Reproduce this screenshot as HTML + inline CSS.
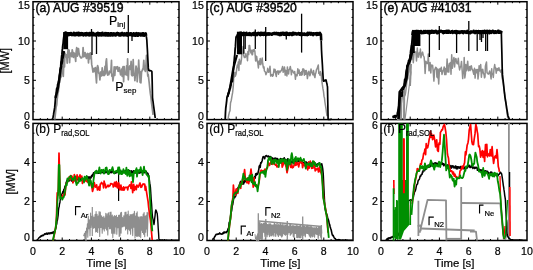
<!DOCTYPE html>
<html><head><meta charset="utf-8"><style>
html,body{margin:0;padding:0;background:#fff;}
svg{display:block;font-family:"Liberation Sans",sans-serif;will-change:transform;}
text{stroke:#000;stroke-width:0.2px;}
text.t{stroke-width:0.4px;}
</style></head><body>
<svg width="533" height="270" viewBox="0 0 533 270">
<rect width="533" height="270" fill="#fff"/>
<rect x="33" y="1.7" width="146" height="117.89999999999999" fill="none" stroke="#000" stroke-width="1.5"/>
<line x1="40.3" y1="119.6" x2="40.3" y2="118.1" stroke="#000" stroke-width="1"/>
<line x1="40.3" y1="1.7" x2="40.3" y2="3.2" stroke="#000" stroke-width="1"/>
<line x1="47.6" y1="119.6" x2="47.6" y2="118.1" stroke="#000" stroke-width="1"/>
<line x1="47.6" y1="1.7" x2="47.6" y2="3.2" stroke="#000" stroke-width="1"/>
<line x1="54.9" y1="119.6" x2="54.9" y2="118.1" stroke="#000" stroke-width="1"/>
<line x1="54.9" y1="1.7" x2="54.9" y2="3.2" stroke="#000" stroke-width="1"/>
<line x1="62.2" y1="119.6" x2="62.2" y2="116.6" stroke="#000" stroke-width="1"/>
<line x1="62.2" y1="1.7" x2="62.2" y2="4.7" stroke="#000" stroke-width="1"/>
<line x1="69.5" y1="119.6" x2="69.5" y2="118.1" stroke="#000" stroke-width="1"/>
<line x1="69.5" y1="1.7" x2="69.5" y2="3.2" stroke="#000" stroke-width="1"/>
<line x1="76.8" y1="119.6" x2="76.8" y2="118.1" stroke="#000" stroke-width="1"/>
<line x1="76.8" y1="1.7" x2="76.8" y2="3.2" stroke="#000" stroke-width="1"/>
<line x1="84.1" y1="119.6" x2="84.1" y2="118.1" stroke="#000" stroke-width="1"/>
<line x1="84.1" y1="1.7" x2="84.1" y2="3.2" stroke="#000" stroke-width="1"/>
<line x1="91.4" y1="119.6" x2="91.4" y2="116.6" stroke="#000" stroke-width="1"/>
<line x1="91.4" y1="1.7" x2="91.4" y2="4.7" stroke="#000" stroke-width="1"/>
<line x1="98.7" y1="119.6" x2="98.7" y2="118.1" stroke="#000" stroke-width="1"/>
<line x1="98.7" y1="1.7" x2="98.7" y2="3.2" stroke="#000" stroke-width="1"/>
<line x1="106.0" y1="119.6" x2="106.0" y2="118.1" stroke="#000" stroke-width="1"/>
<line x1="106.0" y1="1.7" x2="106.0" y2="3.2" stroke="#000" stroke-width="1"/>
<line x1="113.3" y1="119.6" x2="113.3" y2="118.1" stroke="#000" stroke-width="1"/>
<line x1="113.3" y1="1.7" x2="113.3" y2="3.2" stroke="#000" stroke-width="1"/>
<line x1="120.6" y1="119.6" x2="120.6" y2="116.6" stroke="#000" stroke-width="1"/>
<line x1="120.6" y1="1.7" x2="120.6" y2="4.7" stroke="#000" stroke-width="1"/>
<line x1="127.89999999999999" y1="119.6" x2="127.89999999999999" y2="118.1" stroke="#000" stroke-width="1"/>
<line x1="127.89999999999999" y1="1.7" x2="127.89999999999999" y2="3.2" stroke="#000" stroke-width="1"/>
<line x1="135.2" y1="119.6" x2="135.2" y2="118.1" stroke="#000" stroke-width="1"/>
<line x1="135.2" y1="1.7" x2="135.2" y2="3.2" stroke="#000" stroke-width="1"/>
<line x1="142.5" y1="119.6" x2="142.5" y2="118.1" stroke="#000" stroke-width="1"/>
<line x1="142.5" y1="1.7" x2="142.5" y2="3.2" stroke="#000" stroke-width="1"/>
<line x1="149.8" y1="119.6" x2="149.8" y2="116.6" stroke="#000" stroke-width="1"/>
<line x1="149.8" y1="1.7" x2="149.8" y2="4.7" stroke="#000" stroke-width="1"/>
<line x1="157.1" y1="119.6" x2="157.1" y2="118.1" stroke="#000" stroke-width="1"/>
<line x1="157.1" y1="1.7" x2="157.1" y2="3.2" stroke="#000" stroke-width="1"/>
<line x1="164.4" y1="119.6" x2="164.4" y2="118.1" stroke="#000" stroke-width="1"/>
<line x1="164.4" y1="1.7" x2="164.4" y2="3.2" stroke="#000" stroke-width="1"/>
<line x1="171.7" y1="119.6" x2="171.7" y2="118.1" stroke="#000" stroke-width="1"/>
<line x1="171.7" y1="1.7" x2="171.7" y2="3.2" stroke="#000" stroke-width="1"/>
<line x1="33" y1="111.74" x2="34.5" y2="111.74" stroke="#000" stroke-width="1"/>
<line x1="179" y1="111.74" x2="177.5" y2="111.74" stroke="#000" stroke-width="1"/>
<line x1="33" y1="103.88" x2="34.5" y2="103.88" stroke="#000" stroke-width="1"/>
<line x1="179" y1="103.88" x2="177.5" y2="103.88" stroke="#000" stroke-width="1"/>
<line x1="33" y1="96.02" x2="34.5" y2="96.02" stroke="#000" stroke-width="1"/>
<line x1="179" y1="96.02" x2="177.5" y2="96.02" stroke="#000" stroke-width="1"/>
<line x1="33" y1="88.16" x2="34.5" y2="88.16" stroke="#000" stroke-width="1"/>
<line x1="179" y1="88.16" x2="177.5" y2="88.16" stroke="#000" stroke-width="1"/>
<line x1="33" y1="80.3" x2="36.0" y2="80.3" stroke="#000" stroke-width="1"/>
<line x1="179" y1="80.3" x2="176.0" y2="80.3" stroke="#000" stroke-width="1"/>
<line x1="33" y1="72.44" x2="34.5" y2="72.44" stroke="#000" stroke-width="1"/>
<line x1="179" y1="72.44" x2="177.5" y2="72.44" stroke="#000" stroke-width="1"/>
<line x1="33" y1="64.58" x2="34.5" y2="64.58" stroke="#000" stroke-width="1"/>
<line x1="179" y1="64.58" x2="177.5" y2="64.58" stroke="#000" stroke-width="1"/>
<line x1="33" y1="56.72" x2="34.5" y2="56.72" stroke="#000" stroke-width="1"/>
<line x1="179" y1="56.72" x2="177.5" y2="56.72" stroke="#000" stroke-width="1"/>
<line x1="33" y1="48.86" x2="34.5" y2="48.86" stroke="#000" stroke-width="1"/>
<line x1="179" y1="48.86" x2="177.5" y2="48.86" stroke="#000" stroke-width="1"/>
<line x1="33" y1="41.0" x2="36.0" y2="41.0" stroke="#000" stroke-width="1"/>
<line x1="179" y1="41.0" x2="176.0" y2="41.0" stroke="#000" stroke-width="1"/>
<line x1="33" y1="33.14" x2="34.5" y2="33.14" stroke="#000" stroke-width="1"/>
<line x1="179" y1="33.14" x2="177.5" y2="33.14" stroke="#000" stroke-width="1"/>
<line x1="33" y1="25.28" x2="34.5" y2="25.28" stroke="#000" stroke-width="1"/>
<line x1="179" y1="25.28" x2="177.5" y2="25.28" stroke="#000" stroke-width="1"/>
<line x1="33" y1="17.42" x2="34.5" y2="17.42" stroke="#000" stroke-width="1"/>
<line x1="179" y1="17.42" x2="177.5" y2="17.42" stroke="#000" stroke-width="1"/>
<line x1="33" y1="9.560000000000002" x2="34.5" y2="9.560000000000002" stroke="#000" stroke-width="1"/>
<line x1="179" y1="9.560000000000002" x2="177.5" y2="9.560000000000002" stroke="#000" stroke-width="1"/>
<rect x="33" y="123.4" width="146" height="117.1" fill="none" stroke="#000" stroke-width="1.5"/>
<line x1="40.3" y1="240.5" x2="40.3" y2="239.0" stroke="#000" stroke-width="1"/>
<line x1="40.3" y1="123.4" x2="40.3" y2="124.9" stroke="#000" stroke-width="1"/>
<line x1="47.6" y1="240.5" x2="47.6" y2="239.0" stroke="#000" stroke-width="1"/>
<line x1="47.6" y1="123.4" x2="47.6" y2="124.9" stroke="#000" stroke-width="1"/>
<line x1="54.9" y1="240.5" x2="54.9" y2="239.0" stroke="#000" stroke-width="1"/>
<line x1="54.9" y1="123.4" x2="54.9" y2="124.9" stroke="#000" stroke-width="1"/>
<line x1="62.2" y1="240.5" x2="62.2" y2="237.5" stroke="#000" stroke-width="1"/>
<line x1="62.2" y1="123.4" x2="62.2" y2="126.4" stroke="#000" stroke-width="1"/>
<line x1="69.5" y1="240.5" x2="69.5" y2="239.0" stroke="#000" stroke-width="1"/>
<line x1="69.5" y1="123.4" x2="69.5" y2="124.9" stroke="#000" stroke-width="1"/>
<line x1="76.8" y1="240.5" x2="76.8" y2="239.0" stroke="#000" stroke-width="1"/>
<line x1="76.8" y1="123.4" x2="76.8" y2="124.9" stroke="#000" stroke-width="1"/>
<line x1="84.1" y1="240.5" x2="84.1" y2="239.0" stroke="#000" stroke-width="1"/>
<line x1="84.1" y1="123.4" x2="84.1" y2="124.9" stroke="#000" stroke-width="1"/>
<line x1="91.4" y1="240.5" x2="91.4" y2="237.5" stroke="#000" stroke-width="1"/>
<line x1="91.4" y1="123.4" x2="91.4" y2="126.4" stroke="#000" stroke-width="1"/>
<line x1="98.7" y1="240.5" x2="98.7" y2="239.0" stroke="#000" stroke-width="1"/>
<line x1="98.7" y1="123.4" x2="98.7" y2="124.9" stroke="#000" stroke-width="1"/>
<line x1="106.0" y1="240.5" x2="106.0" y2="239.0" stroke="#000" stroke-width="1"/>
<line x1="106.0" y1="123.4" x2="106.0" y2="124.9" stroke="#000" stroke-width="1"/>
<line x1="113.3" y1="240.5" x2="113.3" y2="239.0" stroke="#000" stroke-width="1"/>
<line x1="113.3" y1="123.4" x2="113.3" y2="124.9" stroke="#000" stroke-width="1"/>
<line x1="120.6" y1="240.5" x2="120.6" y2="237.5" stroke="#000" stroke-width="1"/>
<line x1="120.6" y1="123.4" x2="120.6" y2="126.4" stroke="#000" stroke-width="1"/>
<line x1="127.89999999999999" y1="240.5" x2="127.89999999999999" y2="239.0" stroke="#000" stroke-width="1"/>
<line x1="127.89999999999999" y1="123.4" x2="127.89999999999999" y2="124.9" stroke="#000" stroke-width="1"/>
<line x1="135.2" y1="240.5" x2="135.2" y2="239.0" stroke="#000" stroke-width="1"/>
<line x1="135.2" y1="123.4" x2="135.2" y2="124.9" stroke="#000" stroke-width="1"/>
<line x1="142.5" y1="240.5" x2="142.5" y2="239.0" stroke="#000" stroke-width="1"/>
<line x1="142.5" y1="123.4" x2="142.5" y2="124.9" stroke="#000" stroke-width="1"/>
<line x1="149.8" y1="240.5" x2="149.8" y2="237.5" stroke="#000" stroke-width="1"/>
<line x1="149.8" y1="123.4" x2="149.8" y2="126.4" stroke="#000" stroke-width="1"/>
<line x1="157.1" y1="240.5" x2="157.1" y2="239.0" stroke="#000" stroke-width="1"/>
<line x1="157.1" y1="123.4" x2="157.1" y2="124.9" stroke="#000" stroke-width="1"/>
<line x1="164.4" y1="240.5" x2="164.4" y2="239.0" stroke="#000" stroke-width="1"/>
<line x1="164.4" y1="123.4" x2="164.4" y2="124.9" stroke="#000" stroke-width="1"/>
<line x1="171.7" y1="240.5" x2="171.7" y2="239.0" stroke="#000" stroke-width="1"/>
<line x1="171.7" y1="123.4" x2="171.7" y2="124.9" stroke="#000" stroke-width="1"/>
<line x1="33" y1="230.74166666666667" x2="34.5" y2="230.74166666666667" stroke="#000" stroke-width="1"/>
<line x1="179" y1="230.74166666666667" x2="177.5" y2="230.74166666666667" stroke="#000" stroke-width="1"/>
<line x1="33" y1="220.98333333333335" x2="34.5" y2="220.98333333333335" stroke="#000" stroke-width="1"/>
<line x1="179" y1="220.98333333333335" x2="177.5" y2="220.98333333333335" stroke="#000" stroke-width="1"/>
<line x1="33" y1="211.225" x2="34.5" y2="211.225" stroke="#000" stroke-width="1"/>
<line x1="179" y1="211.225" x2="177.5" y2="211.225" stroke="#000" stroke-width="1"/>
<line x1="33" y1="201.46666666666667" x2="36.0" y2="201.46666666666667" stroke="#000" stroke-width="1"/>
<line x1="179" y1="201.46666666666667" x2="176.0" y2="201.46666666666667" stroke="#000" stroke-width="1"/>
<line x1="33" y1="191.70833333333334" x2="34.5" y2="191.70833333333334" stroke="#000" stroke-width="1"/>
<line x1="179" y1="191.70833333333334" x2="177.5" y2="191.70833333333334" stroke="#000" stroke-width="1"/>
<line x1="33" y1="181.95" x2="34.5" y2="181.95" stroke="#000" stroke-width="1"/>
<line x1="179" y1="181.95" x2="177.5" y2="181.95" stroke="#000" stroke-width="1"/>
<line x1="33" y1="172.19166666666666" x2="34.5" y2="172.19166666666666" stroke="#000" stroke-width="1"/>
<line x1="179" y1="172.19166666666666" x2="177.5" y2="172.19166666666666" stroke="#000" stroke-width="1"/>
<line x1="33" y1="162.43333333333334" x2="36.0" y2="162.43333333333334" stroke="#000" stroke-width="1"/>
<line x1="179" y1="162.43333333333334" x2="176.0" y2="162.43333333333334" stroke="#000" stroke-width="1"/>
<line x1="33" y1="152.675" x2="34.5" y2="152.675" stroke="#000" stroke-width="1"/>
<line x1="179" y1="152.675" x2="177.5" y2="152.675" stroke="#000" stroke-width="1"/>
<line x1="33" y1="142.91666666666669" x2="34.5" y2="142.91666666666669" stroke="#000" stroke-width="1"/>
<line x1="179" y1="142.91666666666669" x2="177.5" y2="142.91666666666669" stroke="#000" stroke-width="1"/>
<line x1="33" y1="133.15833333333333" x2="34.5" y2="133.15833333333333" stroke="#000" stroke-width="1"/>
<line x1="179" y1="133.15833333333333" x2="177.5" y2="133.15833333333333" stroke="#000" stroke-width="1"/>
<rect x="207" y="1.7" width="146" height="117.89999999999999" fill="none" stroke="#000" stroke-width="1.5"/>
<line x1="214.3" y1="119.6" x2="214.3" y2="118.1" stroke="#000" stroke-width="1"/>
<line x1="214.3" y1="1.7" x2="214.3" y2="3.2" stroke="#000" stroke-width="1"/>
<line x1="221.6" y1="119.6" x2="221.6" y2="118.1" stroke="#000" stroke-width="1"/>
<line x1="221.6" y1="1.7" x2="221.6" y2="3.2" stroke="#000" stroke-width="1"/>
<line x1="228.9" y1="119.6" x2="228.9" y2="118.1" stroke="#000" stroke-width="1"/>
<line x1="228.9" y1="1.7" x2="228.9" y2="3.2" stroke="#000" stroke-width="1"/>
<line x1="236.2" y1="119.6" x2="236.2" y2="116.6" stroke="#000" stroke-width="1"/>
<line x1="236.2" y1="1.7" x2="236.2" y2="4.7" stroke="#000" stroke-width="1"/>
<line x1="243.5" y1="119.6" x2="243.5" y2="118.1" stroke="#000" stroke-width="1"/>
<line x1="243.5" y1="1.7" x2="243.5" y2="3.2" stroke="#000" stroke-width="1"/>
<line x1="250.8" y1="119.6" x2="250.8" y2="118.1" stroke="#000" stroke-width="1"/>
<line x1="250.8" y1="1.7" x2="250.8" y2="3.2" stroke="#000" stroke-width="1"/>
<line x1="258.1" y1="119.6" x2="258.1" y2="118.1" stroke="#000" stroke-width="1"/>
<line x1="258.1" y1="1.7" x2="258.1" y2="3.2" stroke="#000" stroke-width="1"/>
<line x1="265.4" y1="119.6" x2="265.4" y2="116.6" stroke="#000" stroke-width="1"/>
<line x1="265.4" y1="1.7" x2="265.4" y2="4.7" stroke="#000" stroke-width="1"/>
<line x1="272.7" y1="119.6" x2="272.7" y2="118.1" stroke="#000" stroke-width="1"/>
<line x1="272.7" y1="1.7" x2="272.7" y2="3.2" stroke="#000" stroke-width="1"/>
<line x1="280.0" y1="119.6" x2="280.0" y2="118.1" stroke="#000" stroke-width="1"/>
<line x1="280.0" y1="1.7" x2="280.0" y2="3.2" stroke="#000" stroke-width="1"/>
<line x1="287.3" y1="119.6" x2="287.3" y2="118.1" stroke="#000" stroke-width="1"/>
<line x1="287.3" y1="1.7" x2="287.3" y2="3.2" stroke="#000" stroke-width="1"/>
<line x1="294.6" y1="119.6" x2="294.6" y2="116.6" stroke="#000" stroke-width="1"/>
<line x1="294.6" y1="1.7" x2="294.6" y2="4.7" stroke="#000" stroke-width="1"/>
<line x1="301.9" y1="119.6" x2="301.9" y2="118.1" stroke="#000" stroke-width="1"/>
<line x1="301.9" y1="1.7" x2="301.9" y2="3.2" stroke="#000" stroke-width="1"/>
<line x1="309.2" y1="119.6" x2="309.2" y2="118.1" stroke="#000" stroke-width="1"/>
<line x1="309.2" y1="1.7" x2="309.2" y2="3.2" stroke="#000" stroke-width="1"/>
<line x1="316.5" y1="119.6" x2="316.5" y2="118.1" stroke="#000" stroke-width="1"/>
<line x1="316.5" y1="1.7" x2="316.5" y2="3.2" stroke="#000" stroke-width="1"/>
<line x1="323.8" y1="119.6" x2="323.8" y2="116.6" stroke="#000" stroke-width="1"/>
<line x1="323.8" y1="1.7" x2="323.8" y2="4.7" stroke="#000" stroke-width="1"/>
<line x1="331.1" y1="119.6" x2="331.1" y2="118.1" stroke="#000" stroke-width="1"/>
<line x1="331.1" y1="1.7" x2="331.1" y2="3.2" stroke="#000" stroke-width="1"/>
<line x1="338.4" y1="119.6" x2="338.4" y2="118.1" stroke="#000" stroke-width="1"/>
<line x1="338.4" y1="1.7" x2="338.4" y2="3.2" stroke="#000" stroke-width="1"/>
<line x1="345.7" y1="119.6" x2="345.7" y2="118.1" stroke="#000" stroke-width="1"/>
<line x1="345.7" y1="1.7" x2="345.7" y2="3.2" stroke="#000" stroke-width="1"/>
<line x1="207" y1="111.74" x2="208.5" y2="111.74" stroke="#000" stroke-width="1"/>
<line x1="353" y1="111.74" x2="351.5" y2="111.74" stroke="#000" stroke-width="1"/>
<line x1="207" y1="103.88" x2="208.5" y2="103.88" stroke="#000" stroke-width="1"/>
<line x1="353" y1="103.88" x2="351.5" y2="103.88" stroke="#000" stroke-width="1"/>
<line x1="207" y1="96.02" x2="208.5" y2="96.02" stroke="#000" stroke-width="1"/>
<line x1="353" y1="96.02" x2="351.5" y2="96.02" stroke="#000" stroke-width="1"/>
<line x1="207" y1="88.16" x2="208.5" y2="88.16" stroke="#000" stroke-width="1"/>
<line x1="353" y1="88.16" x2="351.5" y2="88.16" stroke="#000" stroke-width="1"/>
<line x1="207" y1="80.3" x2="210.0" y2="80.3" stroke="#000" stroke-width="1"/>
<line x1="353" y1="80.3" x2="350.0" y2="80.3" stroke="#000" stroke-width="1"/>
<line x1="207" y1="72.44" x2="208.5" y2="72.44" stroke="#000" stroke-width="1"/>
<line x1="353" y1="72.44" x2="351.5" y2="72.44" stroke="#000" stroke-width="1"/>
<line x1="207" y1="64.58" x2="208.5" y2="64.58" stroke="#000" stroke-width="1"/>
<line x1="353" y1="64.58" x2="351.5" y2="64.58" stroke="#000" stroke-width="1"/>
<line x1="207" y1="56.72" x2="208.5" y2="56.72" stroke="#000" stroke-width="1"/>
<line x1="353" y1="56.72" x2="351.5" y2="56.72" stroke="#000" stroke-width="1"/>
<line x1="207" y1="48.86" x2="208.5" y2="48.86" stroke="#000" stroke-width="1"/>
<line x1="353" y1="48.86" x2="351.5" y2="48.86" stroke="#000" stroke-width="1"/>
<line x1="207" y1="41.0" x2="210.0" y2="41.0" stroke="#000" stroke-width="1"/>
<line x1="353" y1="41.0" x2="350.0" y2="41.0" stroke="#000" stroke-width="1"/>
<line x1="207" y1="33.14" x2="208.5" y2="33.14" stroke="#000" stroke-width="1"/>
<line x1="353" y1="33.14" x2="351.5" y2="33.14" stroke="#000" stroke-width="1"/>
<line x1="207" y1="25.28" x2="208.5" y2="25.28" stroke="#000" stroke-width="1"/>
<line x1="353" y1="25.28" x2="351.5" y2="25.28" stroke="#000" stroke-width="1"/>
<line x1="207" y1="17.42" x2="208.5" y2="17.42" stroke="#000" stroke-width="1"/>
<line x1="353" y1="17.42" x2="351.5" y2="17.42" stroke="#000" stroke-width="1"/>
<line x1="207" y1="9.560000000000002" x2="208.5" y2="9.560000000000002" stroke="#000" stroke-width="1"/>
<line x1="353" y1="9.560000000000002" x2="351.5" y2="9.560000000000002" stroke="#000" stroke-width="1"/>
<rect x="207" y="123.4" width="146" height="117.1" fill="none" stroke="#000" stroke-width="1.5"/>
<line x1="214.3" y1="240.5" x2="214.3" y2="239.0" stroke="#000" stroke-width="1"/>
<line x1="214.3" y1="123.4" x2="214.3" y2="124.9" stroke="#000" stroke-width="1"/>
<line x1="221.6" y1="240.5" x2="221.6" y2="239.0" stroke="#000" stroke-width="1"/>
<line x1="221.6" y1="123.4" x2="221.6" y2="124.9" stroke="#000" stroke-width="1"/>
<line x1="228.9" y1="240.5" x2="228.9" y2="239.0" stroke="#000" stroke-width="1"/>
<line x1="228.9" y1="123.4" x2="228.9" y2="124.9" stroke="#000" stroke-width="1"/>
<line x1="236.2" y1="240.5" x2="236.2" y2="237.5" stroke="#000" stroke-width="1"/>
<line x1="236.2" y1="123.4" x2="236.2" y2="126.4" stroke="#000" stroke-width="1"/>
<line x1="243.5" y1="240.5" x2="243.5" y2="239.0" stroke="#000" stroke-width="1"/>
<line x1="243.5" y1="123.4" x2="243.5" y2="124.9" stroke="#000" stroke-width="1"/>
<line x1="250.8" y1="240.5" x2="250.8" y2="239.0" stroke="#000" stroke-width="1"/>
<line x1="250.8" y1="123.4" x2="250.8" y2="124.9" stroke="#000" stroke-width="1"/>
<line x1="258.1" y1="240.5" x2="258.1" y2="239.0" stroke="#000" stroke-width="1"/>
<line x1="258.1" y1="123.4" x2="258.1" y2="124.9" stroke="#000" stroke-width="1"/>
<line x1="265.4" y1="240.5" x2="265.4" y2="237.5" stroke="#000" stroke-width="1"/>
<line x1="265.4" y1="123.4" x2="265.4" y2="126.4" stroke="#000" stroke-width="1"/>
<line x1="272.7" y1="240.5" x2="272.7" y2="239.0" stroke="#000" stroke-width="1"/>
<line x1="272.7" y1="123.4" x2="272.7" y2="124.9" stroke="#000" stroke-width="1"/>
<line x1="280.0" y1="240.5" x2="280.0" y2="239.0" stroke="#000" stroke-width="1"/>
<line x1="280.0" y1="123.4" x2="280.0" y2="124.9" stroke="#000" stroke-width="1"/>
<line x1="287.3" y1="240.5" x2="287.3" y2="239.0" stroke="#000" stroke-width="1"/>
<line x1="287.3" y1="123.4" x2="287.3" y2="124.9" stroke="#000" stroke-width="1"/>
<line x1="294.6" y1="240.5" x2="294.6" y2="237.5" stroke="#000" stroke-width="1"/>
<line x1="294.6" y1="123.4" x2="294.6" y2="126.4" stroke="#000" stroke-width="1"/>
<line x1="301.9" y1="240.5" x2="301.9" y2="239.0" stroke="#000" stroke-width="1"/>
<line x1="301.9" y1="123.4" x2="301.9" y2="124.9" stroke="#000" stroke-width="1"/>
<line x1="309.2" y1="240.5" x2="309.2" y2="239.0" stroke="#000" stroke-width="1"/>
<line x1="309.2" y1="123.4" x2="309.2" y2="124.9" stroke="#000" stroke-width="1"/>
<line x1="316.5" y1="240.5" x2="316.5" y2="239.0" stroke="#000" stroke-width="1"/>
<line x1="316.5" y1="123.4" x2="316.5" y2="124.9" stroke="#000" stroke-width="1"/>
<line x1="323.8" y1="240.5" x2="323.8" y2="237.5" stroke="#000" stroke-width="1"/>
<line x1="323.8" y1="123.4" x2="323.8" y2="126.4" stroke="#000" stroke-width="1"/>
<line x1="331.1" y1="240.5" x2="331.1" y2="239.0" stroke="#000" stroke-width="1"/>
<line x1="331.1" y1="123.4" x2="331.1" y2="124.9" stroke="#000" stroke-width="1"/>
<line x1="338.4" y1="240.5" x2="338.4" y2="239.0" stroke="#000" stroke-width="1"/>
<line x1="338.4" y1="123.4" x2="338.4" y2="124.9" stroke="#000" stroke-width="1"/>
<line x1="345.7" y1="240.5" x2="345.7" y2="239.0" stroke="#000" stroke-width="1"/>
<line x1="345.7" y1="123.4" x2="345.7" y2="124.9" stroke="#000" stroke-width="1"/>
<line x1="207" y1="230.74166666666667" x2="208.5" y2="230.74166666666667" stroke="#000" stroke-width="1"/>
<line x1="353" y1="230.74166666666667" x2="351.5" y2="230.74166666666667" stroke="#000" stroke-width="1"/>
<line x1="207" y1="220.98333333333335" x2="208.5" y2="220.98333333333335" stroke="#000" stroke-width="1"/>
<line x1="353" y1="220.98333333333335" x2="351.5" y2="220.98333333333335" stroke="#000" stroke-width="1"/>
<line x1="207" y1="211.225" x2="208.5" y2="211.225" stroke="#000" stroke-width="1"/>
<line x1="353" y1="211.225" x2="351.5" y2="211.225" stroke="#000" stroke-width="1"/>
<line x1="207" y1="201.46666666666667" x2="210.0" y2="201.46666666666667" stroke="#000" stroke-width="1"/>
<line x1="353" y1="201.46666666666667" x2="350.0" y2="201.46666666666667" stroke="#000" stroke-width="1"/>
<line x1="207" y1="191.70833333333334" x2="208.5" y2="191.70833333333334" stroke="#000" stroke-width="1"/>
<line x1="353" y1="191.70833333333334" x2="351.5" y2="191.70833333333334" stroke="#000" stroke-width="1"/>
<line x1="207" y1="181.95" x2="208.5" y2="181.95" stroke="#000" stroke-width="1"/>
<line x1="353" y1="181.95" x2="351.5" y2="181.95" stroke="#000" stroke-width="1"/>
<line x1="207" y1="172.19166666666666" x2="208.5" y2="172.19166666666666" stroke="#000" stroke-width="1"/>
<line x1="353" y1="172.19166666666666" x2="351.5" y2="172.19166666666666" stroke="#000" stroke-width="1"/>
<line x1="207" y1="162.43333333333334" x2="210.0" y2="162.43333333333334" stroke="#000" stroke-width="1"/>
<line x1="353" y1="162.43333333333334" x2="350.0" y2="162.43333333333334" stroke="#000" stroke-width="1"/>
<line x1="207" y1="152.675" x2="208.5" y2="152.675" stroke="#000" stroke-width="1"/>
<line x1="353" y1="152.675" x2="351.5" y2="152.675" stroke="#000" stroke-width="1"/>
<line x1="207" y1="142.91666666666669" x2="208.5" y2="142.91666666666669" stroke="#000" stroke-width="1"/>
<line x1="353" y1="142.91666666666669" x2="351.5" y2="142.91666666666669" stroke="#000" stroke-width="1"/>
<line x1="207" y1="133.15833333333333" x2="208.5" y2="133.15833333333333" stroke="#000" stroke-width="1"/>
<line x1="353" y1="133.15833333333333" x2="351.5" y2="133.15833333333333" stroke="#000" stroke-width="1"/>
<rect x="381" y="1.7" width="146" height="117.89999999999999" fill="none" stroke="#000" stroke-width="1.5"/>
<line x1="388.3" y1="119.6" x2="388.3" y2="118.1" stroke="#000" stroke-width="1"/>
<line x1="388.3" y1="1.7" x2="388.3" y2="3.2" stroke="#000" stroke-width="1"/>
<line x1="395.6" y1="119.6" x2="395.6" y2="118.1" stroke="#000" stroke-width="1"/>
<line x1="395.6" y1="1.7" x2="395.6" y2="3.2" stroke="#000" stroke-width="1"/>
<line x1="402.9" y1="119.6" x2="402.9" y2="118.1" stroke="#000" stroke-width="1"/>
<line x1="402.9" y1="1.7" x2="402.9" y2="3.2" stroke="#000" stroke-width="1"/>
<line x1="410.2" y1="119.6" x2="410.2" y2="116.6" stroke="#000" stroke-width="1"/>
<line x1="410.2" y1="1.7" x2="410.2" y2="4.7" stroke="#000" stroke-width="1"/>
<line x1="417.5" y1="119.6" x2="417.5" y2="118.1" stroke="#000" stroke-width="1"/>
<line x1="417.5" y1="1.7" x2="417.5" y2="3.2" stroke="#000" stroke-width="1"/>
<line x1="424.8" y1="119.6" x2="424.8" y2="118.1" stroke="#000" stroke-width="1"/>
<line x1="424.8" y1="1.7" x2="424.8" y2="3.2" stroke="#000" stroke-width="1"/>
<line x1="432.1" y1="119.6" x2="432.1" y2="118.1" stroke="#000" stroke-width="1"/>
<line x1="432.1" y1="1.7" x2="432.1" y2="3.2" stroke="#000" stroke-width="1"/>
<line x1="439.4" y1="119.6" x2="439.4" y2="116.6" stroke="#000" stroke-width="1"/>
<line x1="439.4" y1="1.7" x2="439.4" y2="4.7" stroke="#000" stroke-width="1"/>
<line x1="446.7" y1="119.6" x2="446.7" y2="118.1" stroke="#000" stroke-width="1"/>
<line x1="446.7" y1="1.7" x2="446.7" y2="3.2" stroke="#000" stroke-width="1"/>
<line x1="454.0" y1="119.6" x2="454.0" y2="118.1" stroke="#000" stroke-width="1"/>
<line x1="454.0" y1="1.7" x2="454.0" y2="3.2" stroke="#000" stroke-width="1"/>
<line x1="461.3" y1="119.6" x2="461.3" y2="118.1" stroke="#000" stroke-width="1"/>
<line x1="461.3" y1="1.7" x2="461.3" y2="3.2" stroke="#000" stroke-width="1"/>
<line x1="468.6" y1="119.6" x2="468.6" y2="116.6" stroke="#000" stroke-width="1"/>
<line x1="468.6" y1="1.7" x2="468.6" y2="4.7" stroke="#000" stroke-width="1"/>
<line x1="475.9" y1="119.6" x2="475.9" y2="118.1" stroke="#000" stroke-width="1"/>
<line x1="475.9" y1="1.7" x2="475.9" y2="3.2" stroke="#000" stroke-width="1"/>
<line x1="483.2" y1="119.6" x2="483.2" y2="118.1" stroke="#000" stroke-width="1"/>
<line x1="483.2" y1="1.7" x2="483.2" y2="3.2" stroke="#000" stroke-width="1"/>
<line x1="490.5" y1="119.6" x2="490.5" y2="118.1" stroke="#000" stroke-width="1"/>
<line x1="490.5" y1="1.7" x2="490.5" y2="3.2" stroke="#000" stroke-width="1"/>
<line x1="497.8" y1="119.6" x2="497.8" y2="116.6" stroke="#000" stroke-width="1"/>
<line x1="497.8" y1="1.7" x2="497.8" y2="4.7" stroke="#000" stroke-width="1"/>
<line x1="505.1" y1="119.6" x2="505.1" y2="118.1" stroke="#000" stroke-width="1"/>
<line x1="505.1" y1="1.7" x2="505.1" y2="3.2" stroke="#000" stroke-width="1"/>
<line x1="512.4" y1="119.6" x2="512.4" y2="118.1" stroke="#000" stroke-width="1"/>
<line x1="512.4" y1="1.7" x2="512.4" y2="3.2" stroke="#000" stroke-width="1"/>
<line x1="519.7" y1="119.6" x2="519.7" y2="118.1" stroke="#000" stroke-width="1"/>
<line x1="519.7" y1="1.7" x2="519.7" y2="3.2" stroke="#000" stroke-width="1"/>
<line x1="381" y1="111.74" x2="382.5" y2="111.74" stroke="#000" stroke-width="1"/>
<line x1="527" y1="111.74" x2="525.5" y2="111.74" stroke="#000" stroke-width="1"/>
<line x1="381" y1="103.88" x2="382.5" y2="103.88" stroke="#000" stroke-width="1"/>
<line x1="527" y1="103.88" x2="525.5" y2="103.88" stroke="#000" stroke-width="1"/>
<line x1="381" y1="96.02" x2="382.5" y2="96.02" stroke="#000" stroke-width="1"/>
<line x1="527" y1="96.02" x2="525.5" y2="96.02" stroke="#000" stroke-width="1"/>
<line x1="381" y1="88.16" x2="382.5" y2="88.16" stroke="#000" stroke-width="1"/>
<line x1="527" y1="88.16" x2="525.5" y2="88.16" stroke="#000" stroke-width="1"/>
<line x1="381" y1="80.3" x2="384.0" y2="80.3" stroke="#000" stroke-width="1"/>
<line x1="527" y1="80.3" x2="524.0" y2="80.3" stroke="#000" stroke-width="1"/>
<line x1="381" y1="72.44" x2="382.5" y2="72.44" stroke="#000" stroke-width="1"/>
<line x1="527" y1="72.44" x2="525.5" y2="72.44" stroke="#000" stroke-width="1"/>
<line x1="381" y1="64.58" x2="382.5" y2="64.58" stroke="#000" stroke-width="1"/>
<line x1="527" y1="64.58" x2="525.5" y2="64.58" stroke="#000" stroke-width="1"/>
<line x1="381" y1="56.72" x2="382.5" y2="56.72" stroke="#000" stroke-width="1"/>
<line x1="527" y1="56.72" x2="525.5" y2="56.72" stroke="#000" stroke-width="1"/>
<line x1="381" y1="48.86" x2="382.5" y2="48.86" stroke="#000" stroke-width="1"/>
<line x1="527" y1="48.86" x2="525.5" y2="48.86" stroke="#000" stroke-width="1"/>
<line x1="381" y1="41.0" x2="384.0" y2="41.0" stroke="#000" stroke-width="1"/>
<line x1="527" y1="41.0" x2="524.0" y2="41.0" stroke="#000" stroke-width="1"/>
<line x1="381" y1="33.14" x2="382.5" y2="33.14" stroke="#000" stroke-width="1"/>
<line x1="527" y1="33.14" x2="525.5" y2="33.14" stroke="#000" stroke-width="1"/>
<line x1="381" y1="25.28" x2="382.5" y2="25.28" stroke="#000" stroke-width="1"/>
<line x1="527" y1="25.28" x2="525.5" y2="25.28" stroke="#000" stroke-width="1"/>
<line x1="381" y1="17.42" x2="382.5" y2="17.42" stroke="#000" stroke-width="1"/>
<line x1="527" y1="17.42" x2="525.5" y2="17.42" stroke="#000" stroke-width="1"/>
<line x1="381" y1="9.560000000000002" x2="382.5" y2="9.560000000000002" stroke="#000" stroke-width="1"/>
<line x1="527" y1="9.560000000000002" x2="525.5" y2="9.560000000000002" stroke="#000" stroke-width="1"/>
<rect x="381" y="123.4" width="146" height="117.1" fill="none" stroke="#000" stroke-width="1.5"/>
<line x1="388.3" y1="240.5" x2="388.3" y2="239.0" stroke="#000" stroke-width="1"/>
<line x1="388.3" y1="123.4" x2="388.3" y2="124.9" stroke="#000" stroke-width="1"/>
<line x1="395.6" y1="240.5" x2="395.6" y2="239.0" stroke="#000" stroke-width="1"/>
<line x1="395.6" y1="123.4" x2="395.6" y2="124.9" stroke="#000" stroke-width="1"/>
<line x1="402.9" y1="240.5" x2="402.9" y2="239.0" stroke="#000" stroke-width="1"/>
<line x1="402.9" y1="123.4" x2="402.9" y2="124.9" stroke="#000" stroke-width="1"/>
<line x1="410.2" y1="240.5" x2="410.2" y2="237.5" stroke="#000" stroke-width="1"/>
<line x1="410.2" y1="123.4" x2="410.2" y2="126.4" stroke="#000" stroke-width="1"/>
<line x1="417.5" y1="240.5" x2="417.5" y2="239.0" stroke="#000" stroke-width="1"/>
<line x1="417.5" y1="123.4" x2="417.5" y2="124.9" stroke="#000" stroke-width="1"/>
<line x1="424.8" y1="240.5" x2="424.8" y2="239.0" stroke="#000" stroke-width="1"/>
<line x1="424.8" y1="123.4" x2="424.8" y2="124.9" stroke="#000" stroke-width="1"/>
<line x1="432.1" y1="240.5" x2="432.1" y2="239.0" stroke="#000" stroke-width="1"/>
<line x1="432.1" y1="123.4" x2="432.1" y2="124.9" stroke="#000" stroke-width="1"/>
<line x1="439.4" y1="240.5" x2="439.4" y2="237.5" stroke="#000" stroke-width="1"/>
<line x1="439.4" y1="123.4" x2="439.4" y2="126.4" stroke="#000" stroke-width="1"/>
<line x1="446.7" y1="240.5" x2="446.7" y2="239.0" stroke="#000" stroke-width="1"/>
<line x1="446.7" y1="123.4" x2="446.7" y2="124.9" stroke="#000" stroke-width="1"/>
<line x1="454.0" y1="240.5" x2="454.0" y2="239.0" stroke="#000" stroke-width="1"/>
<line x1="454.0" y1="123.4" x2="454.0" y2="124.9" stroke="#000" stroke-width="1"/>
<line x1="461.3" y1="240.5" x2="461.3" y2="239.0" stroke="#000" stroke-width="1"/>
<line x1="461.3" y1="123.4" x2="461.3" y2="124.9" stroke="#000" stroke-width="1"/>
<line x1="468.6" y1="240.5" x2="468.6" y2="237.5" stroke="#000" stroke-width="1"/>
<line x1="468.6" y1="123.4" x2="468.6" y2="126.4" stroke="#000" stroke-width="1"/>
<line x1="475.9" y1="240.5" x2="475.9" y2="239.0" stroke="#000" stroke-width="1"/>
<line x1="475.9" y1="123.4" x2="475.9" y2="124.9" stroke="#000" stroke-width="1"/>
<line x1="483.2" y1="240.5" x2="483.2" y2="239.0" stroke="#000" stroke-width="1"/>
<line x1="483.2" y1="123.4" x2="483.2" y2="124.9" stroke="#000" stroke-width="1"/>
<line x1="490.5" y1="240.5" x2="490.5" y2="239.0" stroke="#000" stroke-width="1"/>
<line x1="490.5" y1="123.4" x2="490.5" y2="124.9" stroke="#000" stroke-width="1"/>
<line x1="497.8" y1="240.5" x2="497.8" y2="237.5" stroke="#000" stroke-width="1"/>
<line x1="497.8" y1="123.4" x2="497.8" y2="126.4" stroke="#000" stroke-width="1"/>
<line x1="505.1" y1="240.5" x2="505.1" y2="239.0" stroke="#000" stroke-width="1"/>
<line x1="505.1" y1="123.4" x2="505.1" y2="124.9" stroke="#000" stroke-width="1"/>
<line x1="512.4" y1="240.5" x2="512.4" y2="239.0" stroke="#000" stroke-width="1"/>
<line x1="512.4" y1="123.4" x2="512.4" y2="124.9" stroke="#000" stroke-width="1"/>
<line x1="519.7" y1="240.5" x2="519.7" y2="239.0" stroke="#000" stroke-width="1"/>
<line x1="519.7" y1="123.4" x2="519.7" y2="124.9" stroke="#000" stroke-width="1"/>
<line x1="381" y1="230.74166666666667" x2="382.5" y2="230.74166666666667" stroke="#000" stroke-width="1"/>
<line x1="527" y1="230.74166666666667" x2="525.5" y2="230.74166666666667" stroke="#000" stroke-width="1"/>
<line x1="381" y1="220.98333333333335" x2="382.5" y2="220.98333333333335" stroke="#000" stroke-width="1"/>
<line x1="527" y1="220.98333333333335" x2="525.5" y2="220.98333333333335" stroke="#000" stroke-width="1"/>
<line x1="381" y1="211.225" x2="382.5" y2="211.225" stroke="#000" stroke-width="1"/>
<line x1="527" y1="211.225" x2="525.5" y2="211.225" stroke="#000" stroke-width="1"/>
<line x1="381" y1="201.46666666666667" x2="384.0" y2="201.46666666666667" stroke="#000" stroke-width="1"/>
<line x1="527" y1="201.46666666666667" x2="524.0" y2="201.46666666666667" stroke="#000" stroke-width="1"/>
<line x1="381" y1="191.70833333333334" x2="382.5" y2="191.70833333333334" stroke="#000" stroke-width="1"/>
<line x1="527" y1="191.70833333333334" x2="525.5" y2="191.70833333333334" stroke="#000" stroke-width="1"/>
<line x1="381" y1="181.95" x2="382.5" y2="181.95" stroke="#000" stroke-width="1"/>
<line x1="527" y1="181.95" x2="525.5" y2="181.95" stroke="#000" stroke-width="1"/>
<line x1="381" y1="172.19166666666666" x2="382.5" y2="172.19166666666666" stroke="#000" stroke-width="1"/>
<line x1="527" y1="172.19166666666666" x2="525.5" y2="172.19166666666666" stroke="#000" stroke-width="1"/>
<line x1="381" y1="162.43333333333334" x2="384.0" y2="162.43333333333334" stroke="#000" stroke-width="1"/>
<line x1="527" y1="162.43333333333334" x2="524.0" y2="162.43333333333334" stroke="#000" stroke-width="1"/>
<line x1="381" y1="152.675" x2="382.5" y2="152.675" stroke="#000" stroke-width="1"/>
<line x1="527" y1="152.675" x2="525.5" y2="152.675" stroke="#000" stroke-width="1"/>
<line x1="381" y1="142.91666666666669" x2="382.5" y2="142.91666666666669" stroke="#000" stroke-width="1"/>
<line x1="527" y1="142.91666666666669" x2="525.5" y2="142.91666666666669" stroke="#000" stroke-width="1"/>
<line x1="381" y1="133.15833333333333" x2="382.5" y2="133.15833333333333" stroke="#000" stroke-width="1"/>
<line x1="527" y1="133.15833333333333" x2="525.5" y2="133.15833333333333" stroke="#000" stroke-width="1"/>
<text x="29.8" y="119.8" font-size="10.6" text-anchor="end" >0</text>
<text x="29.8" y="84.2" font-size="10.6" text-anchor="end" >5</text>
<text x="29.8" y="44.9" font-size="10.6" text-anchor="end" >10</text>
<text x="29.8" y="9.1" font-size="10.6" text-anchor="end" >15</text>
<text x="29.8" y="240.8" font-size="10.6" text-anchor="end" >0</text>
<text x="29.8" y="205.36666666666667" font-size="10.6" text-anchor="end" >2</text>
<text x="29.8" y="166.33333333333334" font-size="10.6" text-anchor="end" >4</text>
<text x="29.8" y="129.4" font-size="10.6" text-anchor="end" >6</text>
<text x="33.0" y="255.4" font-size="10.6" text-anchor="middle" >0</text>
<text x="62.2" y="255.4" font-size="10.6" text-anchor="middle" >2</text>
<text x="91.4" y="255.4" font-size="10.6" text-anchor="middle" >4</text>
<text x="120.6" y="255.4" font-size="10.6" text-anchor="middle" >6</text>
<text x="149.8" y="255.4" font-size="10.6" text-anchor="middle" >8</text>
<text x="179.0" y="255.4" font-size="10.6" text-anchor="middle" >10</text>
<text x="106.4" y="267.4" font-size="11.4" text-anchor="middle" >Time [s]</text>
<text x="203.8" y="119.8" font-size="10.6" text-anchor="end" >0</text>
<text x="203.8" y="84.2" font-size="10.6" text-anchor="end" >5</text>
<text x="203.8" y="44.9" font-size="10.6" text-anchor="end" >10</text>
<text x="203.8" y="9.1" font-size="10.6" text-anchor="end" >15</text>
<text x="203.8" y="240.8" font-size="10.6" text-anchor="end" >0</text>
<text x="203.8" y="205.36666666666667" font-size="10.6" text-anchor="end" >2</text>
<text x="203.8" y="166.33333333333334" font-size="10.6" text-anchor="end" >4</text>
<text x="203.8" y="129.4" font-size="10.6" text-anchor="end" >6</text>
<text x="207.0" y="255.4" font-size="10.6" text-anchor="middle" >0</text>
<text x="236.2" y="255.4" font-size="10.6" text-anchor="middle" >2</text>
<text x="265.4" y="255.4" font-size="10.6" text-anchor="middle" >4</text>
<text x="294.6" y="255.4" font-size="10.6" text-anchor="middle" >6</text>
<text x="323.8" y="255.4" font-size="10.6" text-anchor="middle" >8</text>
<text x="353.0" y="255.4" font-size="10.6" text-anchor="middle" >10</text>
<text x="280.4" y="267.4" font-size="11.4" text-anchor="middle" >Time [s]</text>
<text x="377.8" y="119.8" font-size="10.6" text-anchor="end" >0</text>
<text x="377.8" y="84.2" font-size="10.6" text-anchor="end" >5</text>
<text x="377.8" y="44.9" font-size="10.6" text-anchor="end" >10</text>
<text x="377.8" y="9.1" font-size="10.6" text-anchor="end" >15</text>
<text x="377.8" y="240.8" font-size="10.6" text-anchor="end" >0</text>
<text x="377.8" y="205.36666666666667" font-size="10.6" text-anchor="end" >2</text>
<text x="377.8" y="166.33333333333334" font-size="10.6" text-anchor="end" >4</text>
<text x="377.8" y="129.4" font-size="10.6" text-anchor="end" >6</text>
<text x="381.0" y="255.4" font-size="10.6" text-anchor="middle" >0</text>
<text x="410.2" y="255.4" font-size="10.6" text-anchor="middle" >2</text>
<text x="439.4" y="255.4" font-size="10.6" text-anchor="middle" >4</text>
<text x="468.6" y="255.4" font-size="10.6" text-anchor="middle" >6</text>
<text x="497.8" y="255.4" font-size="10.6" text-anchor="middle" >8</text>
<text x="527.0" y="255.4" font-size="10.6" text-anchor="middle" >10</text>
<text x="454.4" y="267.4" font-size="11.4" text-anchor="middle" >Time [s]</text>
<text transform="translate(9.2,60.7) rotate(-90)" font-size="12" text-anchor="middle" textLength="25.6" lengthAdjust="spacingAndGlyphs">[MW]</text>
<text transform="translate(15.0,181.7) rotate(-90)" font-size="12" text-anchor="middle" textLength="25.6" lengthAdjust="spacingAndGlyphs">[MW]</text>
<polyline points="54.8,119.5 55.5,113.2 56.1,107.3 56.7,105.1 57.2,99.1 57.8,93.8 58.4,91.5 59.1,82.1 59.7,82.5 60.2,79.4 60.6,76.3 61.1,77.0 61.5,73.6 62.1,69.9 62.5,68.9 62.9,66.6 63.3,76.5 63.9,60.9 64.5,67.0 65.0,53.2 65.6,57.0 66.0,55.6 66.6,54.9 67.2,63.2 67.6,53.3 68.1,49.5 68.6,57.3 69.1,50.0 69.6,62.7 70.0,54.6 70.5,53.4 71.1,52.9 71.7,56.6 72.2,49.8 73.0,53.4 73.4,57.5 73.9,52.9 74.3,53.3 75.0,56.0 75.7,61.5 76.1,52.0 76.7,47.7 77.4,56.2 78.0,48.6 78.5,48.6 79.1,53.8 79.5,55.3 80.2,56.7 80.8,58.0 81.5,57.9 82.0,57.2 82.6,56.1 83.1,47.6 83.8,56.9 84.4,56.0 85.1,52.5 85.5,56.2 86.0,56.9 86.5,58.5 86.9,54.2 87.4,53.4 88.0,55.3 88.5,63.0 89.1,53.7 89.6,58.8 90.0,54.9 90.4,52.9 91.1,53.6 91.7,64.4 92.3,67.4 93.0,72.1 93.6,68.6 94.2,68.6 94.8,71.7 95.3,67.6 95.8,74.1 96.5,82.9 97.1,67.7 97.6,65.6 98.2,67.5 98.7,73.2 99.3,73.8 99.9,79.9 100.5,72.4 101.0,71.8 101.6,75.9 102.2,67.8 102.9,72.6 103.3,75.4 104.0,71.4 104.5,75.5 105.0,66.4 105.6,74.0 106.0,61.9 106.5,58.9 107.2,71.2 107.7,75.2 108.3,73.8 108.9,74.6 109.3,71.2 109.8,72.9 110.5,72.2 110.9,71.5 111.5,60.3 111.8,76.2 112.4,74.3 112.9,81.0 113.6,75.7 114.2,66.9 114.8,75.4 115.3,67.6 116.0,66.9 116.4,67.6 117.0,69.0 117.6,66.7 118.0,71.1 118.5,71.3 119.0,70.0 119.4,67.7 120.0,71.3 120.6,74.9 121.2,74.4 121.7,69.0 122.2,76.5 122.6,68.1 123.1,66.6 123.6,81.7 124.2,66.6 124.7,74.5 125.4,72.5 126.1,74.7 126.6,65.8 127.2,75.5 127.6,58.9 128.3,79.8 128.8,69.8 129.3,67.8 129.8,65.9 130.4,69.5 131.1,61.4 131.5,74.8 132.2,75.8 132.6,71.9 133.2,59.6 133.8,75.4 134.4,73.9 134.9,80.6 135.3,75.3 136.0,66.0 136.7,68.8 137.2,81.8 137.8,73.9 138.2,72.3 138.7,60.2 139.1,68.3 139.6,71.4 140.1,82.4 140.5,72.1 140.9,83.0 141.6,71.5 142.1,70.9 142.7,68.9 143.2,68.5 143.8,60.4 144.4,70.0 144.8,69.0 145.4,71.5 146.0,63.7 146.5,55.4 147.1,67.9 147.8,76.2 148.2,74.4 148.7,78.7 149.2,82.8 149.7,87.9 150.4,93.9 150.9,96.8 151.5,102.6 152.0,106.5 152.6,111.2 153.0,114.8" fill="none" stroke="#8e8e8e" stroke-width="1.7" stroke-linejoin="round" />
<polyline points="52.0,119.5 52.3,119.3 52.6,118.8 52.9,117.8 53.2,116.6 53.5,114.9 53.8,112.8 54.1,111.1 54.4,109.3 54.7,107.7 55.0,104.3 55.3,100.5 55.6,95.7 55.9,94.9 56.2,94.3 56.5,90.0 56.8,88.2 57.1,88.0 57.4,87.0 57.7,84.2 58.0,83.7 58.3,83.1 58.6,81.3 58.9,81.1 59.2,79.8 59.5,75.5 59.8,74.0 60.1,69.8 60.4,68.1 60.7,66.9 61.0,61.8 61.3,60.1 61.6,56.7 61.9,54.4 62.2,50.7 62.5,48.2 62.8,45.1 63.1,43.3 63.4,39.9 63.7,37.7 64.0,35.7 64.3,34.0" fill="none" stroke="#000" stroke-width="1.8" stroke-linejoin="round" />
<polyline points="64.3,34.0 64.6,33.2 64.9,33.7 65.2,34.6 65.5,32.8 65.8,34.7 66.1,33.4 66.4,32.9 66.7,35.2 67.0,34.0 67.3,33.6 67.6,34.8 67.9,33.4 68.2,34.0 68.5,33.5 68.8,35.0 69.1,33.5 69.4,33.5 69.7,34.1 70.0,34.5 70.3,33.5 70.6,34.5 70.9,33.1 71.2,33.8 71.5,33.9 71.8,34.2 72.1,35.0 72.4,34.7 72.7,34.3 73.0,34.7 73.3,33.7 73.6,34.6 73.9,32.9 74.2,35.0 74.5,35.0 74.8,34.1 75.1,33.8 75.4,33.7 75.7,35.1 76.0,34.2 76.3,33.2 76.6,34.5 76.9,33.5 77.2,33.6 77.5,33.2 77.8,33.6 78.1,34.7 78.4,35.1 78.7,32.9 79.0,33.9 79.3,34.5 79.6,33.4 79.9,35.1 80.2,33.7 80.5,33.4 80.8,33.4 81.1,34.1 81.4,33.3 81.7,34.3 82.0,33.5 82.3,34.9 82.6,33.4 82.9,34.7 83.2,34.5 83.5,35.2 83.8,34.5 84.1,34.7 84.4,34.1 84.7,33.6 85.0,33.4 85.3,33.5 85.6,34.8 85.9,35.2 86.2,33.8 86.5,35.1 86.8,33.2 87.1,34.9 87.4,34.8 87.7,34.4 88.0,33.9 88.3,33.8 88.6,34.9 88.9,33.4 89.2,35.3 89.5,33.1 89.8,35.0 90.1,33.8 90.4,33.7 90.7,35.0 91.0,33.4 91.3,33.0 91.6,33.0 91.9,33.3 92.2,33.6 92.5,33.4 92.8,35.0 93.1,33.2 93.4,34.2 93.7,34.2 94.0,34.9 94.3,34.5 94.6,34.5 94.9,33.9 95.2,34.7 95.5,35.2 95.8,35.0 96.1,35.3 96.4,34.0 96.7,34.4 97.0,35.0 97.3,33.1 97.6,33.2 97.9,33.0 98.2,33.2 98.5,34.4 98.8,35.3 99.1,35.2 99.4,33.5 99.7,34.1 100.0,34.8 100.3,34.3 100.6,33.6 100.9,34.4 101.2,35.3 101.5,35.2 101.8,33.7 102.1,34.4 102.4,33.0 102.7,34.1 103.0,35.0 103.3,33.8 103.6,35.1 103.9,34.2 104.2,34.5 104.5,33.9 104.8,33.9 105.1,33.3 105.4,35.3 105.7,33.6 106.0,33.3 106.3,34.5 106.6,34.3 106.9,34.4 107.2,33.8 107.5,35.4 107.8,34.2 108.1,33.4 108.4,33.5 108.7,33.9 109.0,35.3 109.3,33.8 109.6,34.0 109.9,34.6 110.2,34.6 110.5,33.6 110.8,35.4 111.1,33.4 111.4,33.7 111.7,33.6 112.0,34.6 112.3,34.5 112.6,35.3 112.9,35.3 113.2,34.2 113.5,34.8 113.8,33.6 114.1,34.8 114.4,34.6 114.7,34.8 115.0,33.8 115.3,35.2 115.6,34.0 115.9,35.2 116.2,35.1 116.5,33.8 116.8,34.1 117.1,33.2 117.4,33.8 117.7,33.4 118.0,34.0 118.3,34.5 118.6,33.4 118.9,35.1 119.2,35.3 119.5,34.0 119.8,35.3 120.1,34.4 120.4,33.7 120.7,35.3 121.0,34.6 121.3,35.1 121.6,34.6 121.9,33.1 122.2,33.9 122.5,33.3 122.8,34.3 123.1,35.1 123.4,34.4 123.7,35.1 124.0,35.3 124.3,35.0 124.6,34.6 124.9,33.6 125.2,35.0 125.5,34.4 125.8,34.7 126.1,34.7 126.4,33.8 126.7,33.4 127.0,35.4 127.3,34.6 127.6,35.4 127.9,33.5 128.2,35.2 128.5,33.7 128.8,34.7 129.1,34.5 129.4,34.9 129.7,34.9 130.0,34.9 130.3,33.5 130.6,34.6 130.9,33.4 131.2,34.1 131.5,34.5 131.8,34.4 132.1,35.3 132.4,35.2 132.7,35.4 133.0,33.9 133.3,34.7 133.6,33.6 133.9,35.4 134.2,33.6 134.5,35.1 134.8,35.5 135.1,34.2 135.4,33.9 135.7,35.5 136.0,34.7 136.3,33.6 136.6,33.3 136.9,34.3 137.2,35.4 137.5,34.8 137.8,35.0 138.1,35.5 138.4,34.8 138.7,33.6 139.0,34.2 139.3,33.7 139.6,33.6 139.9,34.0 140.2,34.8 140.5,34.2 140.8,33.7 141.1,35.4 141.4,34.7 141.7,34.5 142.0,34.0 142.3,33.6 142.6,34.9 142.9,35.3 143.2,33.4 143.5,34.6 143.8,34.5 144.1,35.5 144.4,35.4 144.7,33.9 145.0,33.8 145.3,33.8 145.6,33.6 145.9,35.5 146.2,36.1" fill="none" stroke="#000" stroke-width="2.9" stroke-linejoin="round" />
<polyline points="146.2,36.1 146.5,37.3 146.8,39.8 147.1,45.1 147.4,50.1 147.7,56.2 148.0,62.1 148.3,67.9 148.6,70.0 148.9,70.4 149.2,70.1 149.5,70.3 149.8,70.8 150.1,70.6 150.4,70.6 150.7,70.8 151.0,70.9 151.3,71.0 151.6,71.1 151.9,71.6 152.2,81.9 152.5,97.5 152.8,100.1 153.1,101.9 153.4,104.5 153.7,106.6 154.0,108.9 154.3,111.1 154.6,113.4 154.9,115.7 155.2,118.0" fill="none" stroke="#000" stroke-width="1.7" stroke-linejoin="round" />
<polyline points="55.5,98.0 58.0,88.0 60.5,70.0 64.0,51.0" fill="none" stroke="#000" stroke-width="2.4" stroke-linejoin="round" />
<rect x="63.3" y="32" width="4.8" height="17.2" fill="#000"/>
<line x1="92" y1="33" x2="92" y2="55" stroke="#000" stroke-width="1.3"/>
<line x1="96.5" y1="34" x2="96.5" y2="54" stroke="#000" stroke-width="1.3"/>
<line x1="128.3" y1="15" x2="128.3" y2="53" stroke="#000" stroke-width="1.3"/>
<line x1="91.5" y1="29" x2="91.5" y2="34" stroke="#000" stroke-width="1.3"/>
<line x1="132" y1="34" x2="132" y2="41" stroke="#000" stroke-width="1.3"/>
<text x="35.5" y="12.2" font-size="12.2" text-anchor="start" class="t">(a) AUG #39519</text>
<text x="109" y="25.2" font-size="12.4" text-anchor="start" >P<tspan font-size="8" dy="1.3">inj</tspan></text>
<text x="115.3" y="90.7" font-size="12.4" text-anchor="start" >P<tspan font-size="8" dy="2.5">sep</tspan></text>
<polyline points="228.0,119.5 228.6,115.6 229.4,112.1 230.0,110.8 230.5,103.0 231.3,100.2 232.1,95.4 232.6,92.7 233.3,86.2 233.7,76.0 234.4,77.0 234.8,72.3 235.3,76.3 236.1,74.1 236.8,68.2 237.3,65.1 237.8,67.4 238.3,62.1 238.9,70.4 239.3,59.2 240.1,63.2 240.7,64.1 241.4,59.6 241.8,54.1 242.6,53.4 243.1,46.5 243.7,55.4 244.4,57.5 245.2,57.4 245.9,53.6 246.4,56.6 246.9,56.0 247.5,60.7 247.9,51.5 248.7,54.6 249.1,45.4 249.7,45.5 250.3,50.5 251.0,53.0 251.6,50.2 252.0,54.8 252.5,54.7 253.1,49.8 253.6,51.3 254.3,49.6 254.9,51.5 255.6,61.0 256.2,56.3 256.7,56.5 257.3,61.7 257.7,61.8 258.4,68.0 259.0,60.9 259.5,64.2 260.2,58.6 260.8,64.7 261.6,60.8 262.2,58.1 262.7,63.7 263.4,67.9 264.0,66.8 264.4,71.0 265.2,71.7 265.9,74.7 266.6,72.9 267.2,71.9 267.7,68.3 268.1,70.6 268.7,72.2 269.2,71.6 270.0,66.2 270.7,76.1 271.3,75.0 272.0,74.5 272.5,76.2 273.2,75.5 274.0,69.0 274.5,72.0 275.1,69.6 275.9,74.8 276.3,76.4 276.8,71.6 277.5,71.0 278.0,70.9 278.5,74.2 279.1,71.1 279.9,72.5 280.5,71.1 281.1,71.0 281.9,69.1 282.6,66.4 283.2,72.3 284.0,70.0 284.5,67.0 285.2,75.2 285.6,70.3 286.2,70.6 286.9,75.9 287.4,66.9 288.0,72.8 288.6,74.0 289.0,70.0 289.7,68.9 290.3,66.5 290.9,70.0 291.4,74.8 291.8,70.5 292.4,70.3 293.1,72.0 293.6,72.5 294.3,73.5 294.7,71.5 295.4,79.3 295.9,74.6 296.5,75.5 297.1,75.8 297.8,68.8 298.4,73.2 299.1,69.9 299.7,75.2 300.5,72.8 301.2,75.2 301.6,71.7 302.2,74.7 302.7,68.9 303.3,68.9 303.8,69.4 304.4,75.2 304.9,70.4 305.5,74.3 306.2,70.5 306.8,72.2 307.4,78.6 308.1,74.0 308.9,71.3 309.3,73.4 309.9,75.8 310.4,73.9 311.0,69.0 311.7,72.2 312.3,73.1 312.9,74.8 313.5,70.4 314.2,75.2 314.9,77.6 315.4,73.9 315.9,72.9 316.5,69.5 317.1,68.8 317.8,66.5 318.3,65.0 318.8,73.5 319.4,72.4 319.9,75.2 320.4,71.6 321.1,73.5 321.6,79.1 322.3,84.4 323.0,88.9 323.5,91.6 324.0,96.2 324.5,98.1 324.9,102.0 325.6,106.3 326.1,109.4 326.5,112.3 327.1,116.2" fill="none" stroke="#8e8e8e" stroke-width="1.5" stroke-linejoin="round" />
<polyline points="225.2,119.5 225.5,112.0 225.8,107.8 226.1,105.6 226.4,103.2 226.7,100.6 227.0,97.2 227.3,96.6 227.6,95.8 227.9,95.5 228.2,93.2 228.5,93.8 228.8,93.3 229.1,92.4 229.4,90.6 229.7,88.3 230.0,87.4 230.3,88.4 230.6,84.9 230.9,85.5 231.2,82.6 231.5,81.6 231.8,82.0 232.1,80.7 232.4,81.2 232.7,76.5 233.0,73.1 233.3,70.6 233.6,67.9 233.9,62.9 234.2,60.6 234.5,56.9 234.8,54.7 235.1,49.2 235.4,46.9 235.7,42.0 236.0,37.5 236.3,36.4 236.6,36.8 236.9,36.4 237.2,35.8 237.5,34.4 237.8,35.0" fill="none" stroke="#000" stroke-width="1.8" stroke-linejoin="round" />
<polyline points="237.5,34.4 237.8,35.0 238.1,34.8 238.4,34.1 238.7,35.2 239.0,33.9 239.3,34.3 239.6,34.7 239.9,34.3 240.2,32.8 240.5,34.3 240.8,33.2 241.1,33.8 241.4,32.9 241.7,33.6 242.0,33.3 242.3,34.9 242.6,33.5 242.9,33.9 243.2,33.6 243.5,35.0 243.8,32.9 244.1,34.8 244.4,33.3 244.7,33.7 245.0,34.5 245.3,33.4 245.6,33.4 245.9,34.4 246.2,34.9 246.5,32.9 246.8,34.2 247.1,34.0 247.4,34.6 247.7,34.3 248.0,34.8 248.3,34.1 248.6,33.6 248.9,34.8 249.2,33.7 249.5,33.2 249.8,34.9 250.1,33.7 250.4,34.0 250.7,33.5 251.0,34.8 251.3,34.5 251.6,35.1 251.9,33.8 252.2,34.6 252.5,34.4 252.8,33.2 253.1,33.7 253.4,34.0 253.7,33.2 254.0,34.9 254.3,34.1 254.6,32.9 254.9,34.4 255.2,34.8 255.5,33.0 255.8,34.0 256.1,35.0 256.4,34.3 256.7,33.6 257.0,35.1 257.3,35.0 257.6,34.4 257.9,33.5 258.2,32.9 258.5,33.5 258.8,33.6 259.1,33.9 259.4,33.2 259.7,33.8 260.0,34.8 260.3,34.1 260.6,35.1 260.9,32.9 261.2,34.0 261.5,33.1 261.8,33.5 262.1,32.9 262.4,34.8 262.7,34.0 263.0,34.0 263.3,33.6 263.6,35.0 263.9,33.9 264.2,32.9 264.5,34.7 264.8,33.7 265.1,32.8 265.4,33.2 265.7,34.7 266.0,33.9 266.3,34.3 266.6,35.0 266.9,33.5 267.2,34.5 267.5,33.6 267.8,34.1 268.1,33.8 268.4,34.1 268.7,33.4 269.0,34.7 269.3,34.1 269.6,34.2 269.9,33.4 270.2,33.7 270.5,33.7 270.8,34.2 271.1,33.8 271.4,34.6 271.7,34.3 272.0,34.7 272.3,34.4 272.6,33.4 272.9,33.7 273.2,33.4 273.5,33.9 273.8,33.2 274.1,34.0 274.4,33.0 274.7,33.9 275.0,33.0 275.3,33.4 275.6,33.9 275.9,34.2 276.2,33.2 276.5,32.9 276.8,33.0 277.1,34.1 277.4,34.3 277.7,33.8 278.0,33.4 278.3,33.8 278.6,33.6 278.9,33.2 279.2,35.0 279.5,35.0 279.8,34.1 280.1,35.1 280.4,33.9 280.7,33.0 281.0,34.9 281.3,33.5 281.6,34.7 281.9,33.5 282.2,32.9 282.5,33.6 282.8,33.9 283.1,32.8 283.4,33.4 283.7,34.7 284.0,33.5 284.3,34.6 284.6,33.0 284.9,33.3 285.2,33.7 285.5,35.0 285.8,35.0 286.1,32.8 286.4,34.7 286.7,34.9 287.0,32.9 287.3,33.5 287.6,34.8 287.9,33.6 288.2,33.3 288.5,33.8 288.8,34.4 289.1,34.9 289.4,33.8 289.7,33.6 290.0,33.1 290.3,33.4 290.6,33.7 290.9,33.5 291.2,33.5 291.5,35.0 291.8,33.3 292.1,33.4 292.4,35.0 292.7,32.9 293.0,34.2 293.3,33.8 293.6,32.8 293.9,34.4 294.2,34.0 294.5,34.0 294.8,34.0 295.1,33.6 295.4,33.2 295.7,34.1 296.0,34.1 296.3,33.4 296.6,34.2 296.9,34.5 297.2,34.2 297.5,33.5 297.8,33.7 298.1,33.8 298.4,33.0 298.7,34.0 299.0,33.7 299.3,34.6 299.6,33.5 299.9,34.8 300.2,33.6 300.5,33.7 300.8,33.5 301.1,35.1 301.4,33.0 301.7,35.1 302.0,33.8 302.3,34.6 302.6,34.0 302.9,34.7 303.2,33.8 303.5,33.7 303.8,34.0 304.1,34.7 304.4,33.6 304.7,34.0 305.0,35.0 305.3,34.1 305.6,34.1 305.9,34.2 306.2,33.8 306.5,34.6 306.8,35.0 307.1,35.1 307.4,34.2 307.7,32.8 308.0,34.6 308.3,34.6 308.6,34.4 308.9,33.7 309.2,33.8 309.5,32.9 309.8,33.3 310.1,34.1 310.4,33.0 310.7,34.6 311.0,34.6 311.3,33.1 311.6,33.1 311.9,34.0 312.2,33.5 312.5,33.6 312.8,34.6 313.1,35.2 313.4,33.3 313.7,34.1 314.0,33.4 314.3,33.5 314.6,33.9 314.9,34.1 315.2,33.3 315.5,33.8 315.8,33.5 316.1,33.5 316.4,34.3 316.7,35.0 317.0,33.1 317.3,34.1 317.6,34.1 317.9,33.9 318.2,34.7 318.5,33.3 318.8,34.0 319.1,33.1 319.4,34.2 319.7,33.4 320.0,32.9 320.3,35.0 320.6,35.2 320.9,34.2 321.2,40.5" fill="none" stroke="#000" stroke-width="2.6" stroke-linejoin="round" />
<polyline points="321.2,40.5 321.5,49.8 321.8,55.6 322.1,60.1 322.4,64.9 322.7,70.8 323.0,75.8 323.3,80.5 323.6,81.2 323.9,80.2 324.2,80.6 324.5,80.6 324.8,80.9 325.1,80.2 325.4,80.7 325.7,80.0 326.0,79.9 326.3,81.3 326.6,82.6 326.9,83.7 327.2,85.4 327.5,86.9 327.8,103.5 328.1,119.5 328.4,119.5 328.7,119.5 329.0,119.5 329.3,119.5 329.6,119.5 329.9,119.5 330.2,119.5 330.5,119.5 330.8,119.5" fill="none" stroke="#000" stroke-width="1.7" stroke-linejoin="round" />
<polyline points="227.5,97.0 230.0,88.0 233.4,68.0 237.0,55.0" fill="none" stroke="#000" stroke-width="2.2" stroke-linejoin="round" />
<rect x="236.9" y="31.7" width="5.1" height="22.6" fill="#000"/>
<line x1="243.8" y1="34" x2="243.8" y2="53.7" stroke="#000" stroke-width="1.3"/>
<line x1="245.2" y1="32" x2="245.2" y2="49" stroke="#000" stroke-width="1.3"/>
<line x1="255.3" y1="29.6" x2="255.3" y2="49" stroke="#000" stroke-width="1.3"/>
<line x1="265.7" y1="27" x2="265.7" y2="61" stroke="#000" stroke-width="1.3"/>
<line x1="301.6" y1="13.7" x2="301.6" y2="52.6" stroke="#000" stroke-width="1.3"/>
<line x1="286.3" y1="34" x2="286.3" y2="39.4" stroke="#000" stroke-width="1.3"/>
<text x="209.5" y="12.2" font-size="12.2" text-anchor="start" class="t">(c) AUG #39520</text>
<polyline points="397.0,119.5 397.4,119.5 398.1,119.1 398.5,118.9 399.2,119.1 399.9,114.1 400.6,105.5 401.2,104.0 401.8,100.2 402.3,96.9 402.8,96.9 403.3,95.8 403.9,99.3 404.5,95.9 405.2,94.8 405.7,91.9 406.4,86.2 407.0,80.5 407.8,78.4 408.5,72.0 408.9,72.2 409.7,66.6 410.2,64.4 410.7,56.7 411.3,53.0 411.8,59.1 412.5,52.2 413.3,62.7 414.1,52.6 414.8,51.9 415.5,52.0 415.9,51.9 416.5,60.9 417.3,48.0 417.9,56.8 418.6,57.1 419.3,52.6 419.9,54.5 420.4,49.1 420.9,57.7 421.5,55.3 421.9,53.6 422.6,52.1 423.3,55.5 424.1,57.0 424.6,62.7 425.1,73.4 425.9,61.2 426.6,62.9 427.3,63.6 427.8,63.5 428.3,54.1 429.0,70.8 429.7,68.4 430.1,62.6 430.8,73.0 431.3,65.0 431.8,65.6 432.6,65.3 433.3,72.1 433.9,81.1 434.6,70.1 435.1,68.9 435.7,67.3 436.5,68.1 436.9,76.9 437.4,77.6 437.9,69.1 438.7,84.0 439.4,69.9 440.0,68.6 440.6,71.2 441.3,67.3 442.0,74.4 442.8,71.4 443.6,69.9 444.2,67.0 444.7,74.6 445.4,68.4 445.9,74.6 446.6,68.5 447.1,59.0 447.8,71.9 448.2,65.6 448.8,72.1 449.3,63.5 450.0,63.8 450.5,62.4 451.0,74.3 451.7,54.8 452.4,68.3 452.9,62.7 453.4,60.9 453.9,57.6 454.6,66.9 455.3,59.3 455.9,58.6 456.4,61.0 457.0,63.5 457.6,63.8 458.3,58.2 459.0,66.1 459.6,69.9 460.2,67.4 460.9,66.2 461.5,61.4 462.2,70.7 462.7,78.6 463.2,72.5 463.7,73.0 464.2,57.6 464.8,78.0 465.4,74.0 465.8,64.5 466.3,70.7 467.0,68.1 467.7,61.2 468.4,70.7 468.9,68.8 469.7,66.5 470.1,70.6 470.7,66.4 471.4,65.9 472.0,69.7 472.5,69.4 473.0,71.2 473.8,74.3 474.5,68.3 475.1,78.1 475.7,70.4 476.3,69.5 477.0,72.9 477.6,69.5 478.0,79.0 478.6,73.9 479.1,65.7 479.7,70.9 480.2,70.6 480.7,64.6 481.4,77.2 481.9,69.9 482.7,69.2 483.4,73.7 484.0,73.9 484.5,77.8 485.0,76.9 485.4,66.1 486.0,63.6 486.5,62.0 487.0,72.8 487.6,73.2 488.2,74.2 488.9,73.6 489.7,70.9 490.4,74.1 491.1,78.9 491.7,68.8 492.1,74.2 492.8,73.7 493.3,77.5 494.0,69.0 494.7,64.6 495.1,67.7 495.6,67.6 496.2,73.2 496.9,69.1 497.4,68.5 498.1,70.4 498.9,67.8 499.6,70.7 500.2,70.4 500.9,72.2 501.4,69.8 502.1,78.1 502.7,80.3 503.2,83.4 503.6,86.5 504.4,92.5 504.9,95.2 505.7,100.8 506.1,103.1 506.7,110.1 507.3,114.6 507.8,118.3" fill="none" stroke="#8e8e8e" stroke-width="1.5" stroke-linejoin="round" />
<polyline points="392.4,116.3 392.7,116.6 393.0,116.9 393.3,116.2 393.6,117.3 393.9,117.4 394.2,116.4 394.5,117.0 394.8,115.7 395.1,117.0 395.4,117.1 395.7,115.6 396.0,117.0 396.3,115.6 396.6,115.4 396.9,115.8 397.2,114.5 397.5,112.4 397.8,111.7 398.1,109.8 398.4,108.6 398.7,106.8 399.0,105.7 399.3,104.6 399.6,103.5 399.9,101.9 400.2,98.9 400.5,100.1 400.8,96.8 401.1,94.9 401.4,93.0 401.7,96.4 402.0,94.5 402.3,95.9 402.6,93.2 402.9,90.6 403.2,92.0 403.5,90.7 403.8,87.7 404.1,85.9 404.4,82.3 404.7,79.4 405.0,79.7 405.3,78.5 405.6,77.3 405.9,73.6 406.2,71.4 406.5,70.0 406.8,69.7 407.1,66.0 407.4,65.9 407.7,66.1 408.0,65.0 408.3,64.7 408.6,60.5 408.9,62.2 409.2,61.6 409.5,58.8 409.8,59.4 410.1,55.2 410.4,53.9 410.7,50.5 411.0,49.3 411.3,45.9 411.6,45.1 411.9,42.3 412.2,38.7 412.5,35.2 412.8,32.0" fill="none" stroke="#000" stroke-width="1.8" stroke-linejoin="round" />
<polyline points="412.5,35.2 412.8,32.0 413.1,31.2 413.4,33.1 413.7,31.6 414.0,32.0 414.3,33.2 414.6,31.7 414.9,32.0 415.2,31.2 415.5,32.5 415.8,31.7 416.1,32.3 416.4,31.1 416.7,31.3 417.0,31.0 417.3,31.3 417.6,31.6 417.9,32.7 418.2,31.2 418.5,31.9 418.8,31.1 419.1,32.6 419.4,31.4 419.7,31.5 420.0,32.5 420.3,31.9 420.6,32.7 420.9,31.0 421.2,32.7 421.5,32.2 421.8,33.2 422.1,32.1 422.4,31.9 422.7,32.9 423.0,31.7 423.3,32.9 423.6,33.0 423.9,31.1 424.2,32.2 424.5,32.6 424.8,32.2 425.1,32.2 425.4,32.1 425.7,31.0 426.0,32.8 426.3,32.4 426.6,32.4 426.9,32.5 427.2,32.3 427.5,31.8 427.8,31.2 428.1,33.1 428.4,32.8 428.7,31.8 429.0,31.0 429.3,33.2 429.6,31.2 429.9,31.9 430.2,33.2 430.5,32.3 430.8,32.1 431.1,31.1 431.4,32.6 431.7,31.1 432.0,32.8 432.3,31.1 432.6,32.4 432.9,31.8 433.2,31.1 433.5,32.6 433.8,31.3 434.1,31.3 434.4,32.6 434.7,32.1 435.0,32.0 435.3,31.9 435.6,30.9 435.9,31.8 436.2,31.8 436.5,31.0 436.8,33.1 437.1,31.9 437.4,33.1 437.7,33.1 438.0,33.1 438.3,31.6 438.6,32.0 438.9,31.4 439.2,31.0 439.5,31.4 439.8,30.9 440.1,31.8 440.4,31.3 440.7,30.9 441.0,30.8 441.3,30.9 441.6,31.0 441.9,31.0 442.2,31.3 442.5,32.3 442.8,31.3 443.1,32.9 443.4,33.1 443.7,31.8 444.0,31.3 444.3,31.8 444.6,31.3 444.9,32.6 445.2,32.3 445.5,31.2 445.8,32.2 446.1,32.7 446.4,31.2 446.7,30.8 447.0,31.0 447.3,32.8 447.6,31.0 447.9,32.5 448.2,31.9 448.5,32.7 448.8,30.8 449.1,32.1 449.4,32.2 449.7,32.0 450.0,32.1 450.3,32.7 450.6,32.7 450.9,31.8 451.2,31.5 451.5,31.9 451.8,31.5 452.1,31.7 452.4,31.0 452.7,33.0 453.0,32.1 453.3,31.7 453.6,32.3 453.9,31.5 454.2,32.0 454.5,31.3 454.8,32.4 455.1,32.6 455.4,32.5 455.7,32.9 456.0,31.1 456.3,31.2 456.6,32.5 456.9,31.3 457.2,32.5 457.5,32.9 457.8,32.9 458.1,32.0 458.4,31.7 458.7,32.3 459.0,31.5 459.3,32.6 459.6,33.0 459.9,32.0 460.2,32.8 460.5,31.6 460.8,31.6 461.1,31.4 461.4,31.7 461.7,31.9 462.0,31.3 462.3,32.8 462.6,32.7 462.9,31.2 463.2,33.1 463.5,32.6 463.8,32.6 464.1,32.4 464.4,31.9 464.7,31.3 465.0,31.6 465.3,31.7 465.6,32.3 465.9,31.8 466.2,32.8 466.5,31.3 466.8,31.3 467.1,31.5 467.4,30.9 467.7,31.8 468.0,33.0 468.3,31.9 468.6,32.3 468.9,32.2 469.2,32.6 469.5,32.7 469.8,33.2 470.1,32.6 470.4,33.1 470.7,31.7 471.0,31.3 471.3,32.1 471.6,32.4 471.9,32.3 472.2,32.0 472.5,31.8 472.8,32.2 473.1,31.4 473.4,32.5 473.7,30.9 474.0,31.8 474.3,32.1 474.6,32.2 474.9,32.0 475.2,33.1 475.5,31.3 475.8,32.7 476.1,31.1 476.4,32.3 476.7,32.1 477.0,32.5 477.3,31.6 477.6,31.3 477.9,32.3 478.2,31.8 478.5,31.0 478.8,32.9 479.1,31.3 479.4,32.9 479.7,32.0 480.0,31.3 480.3,32.7 480.6,33.0 480.9,31.2 481.2,31.6 481.5,31.7 481.8,32.3 482.1,32.2 482.4,31.2 482.7,32.5 483.0,32.8 483.3,32.8 483.6,31.4 483.9,32.0 484.2,32.9 484.5,30.9 484.8,32.3 485.1,32.5 485.4,32.8 485.7,31.2 486.0,31.0 486.3,32.7 486.6,31.4 486.9,31.8 487.2,30.9 487.5,31.1 487.8,31.4 488.1,31.0 488.4,31.5 488.7,32.6 489.0,32.7 489.3,33.1 489.6,32.4 489.9,30.9 490.2,32.1 490.5,31.5 490.8,32.3 491.1,32.9 491.4,31.8 491.7,31.4 492.0,32.1 492.3,31.2 492.6,31.5 492.9,30.9 493.2,32.4 493.5,31.1 493.8,31.8 494.1,33.0 494.4,32.3 494.7,31.5 495.0,32.3 495.3,31.3 495.6,32.7 495.9,32.8 496.2,32.0 496.5,32.5 496.8,31.7 497.1,32.4 497.4,31.6 497.7,31.6 498.0,30.9 498.3,32.6 498.6,30.8 498.9,32.3 499.2,31.3 499.5,32.7 499.8,32.4 500.1,32.2 500.4,31.7 500.7,31.6 501.0,32.7 501.3,30.9" fill="none" stroke="#000" stroke-width="2.6" stroke-linejoin="round" />
<polyline points="501.3,30.9 501.6,43.2 501.9,54.4 502.2,68.3 502.5,74.9 502.8,77.7 503.1,80.3 503.4,82.8 503.7,85.5 504.0,88.7 504.3,91.4 504.6,94.2 504.9,96.8 505.2,98.9 505.5,100.8 505.8,102.4 506.1,104.4 506.4,106.2 506.7,108.3 507.0,109.8 507.3,111.7 507.6,113.5 507.9,115.4 508.2,116.4 508.5,116.9 508.8,117.9 509.1,118.7 509.4,119.3" fill="none" stroke="#000" stroke-width="1.7" stroke-linejoin="round" />
<polyline points="401.0,119.5 401.2,97.0" fill="none" stroke="#8e8e8e" stroke-width="2.2" stroke-linejoin="round" />
<polyline points="404.0,119.5 404.2,90.0" fill="none" stroke="#8e8e8e" stroke-width="2.0" stroke-linejoin="round" />
<polyline points="410.0,86.0 411.0,64.0" fill="none" stroke="#8e8e8e" stroke-width="2.0" stroke-linejoin="round" />
<polyline points="398.5,119.0 399.8,92.0 402.0,89.0 404.5,86.0 406.5,78.0 407.5,66.0 410.0,60.0 411.5,54.0 412.5,46.0" fill="none" stroke="#000" stroke-width="2.8" stroke-linejoin="round" />
<polyline points="405.0,119.8 411.0,71.5" fill="none" stroke="#8e8e8e" stroke-width="1.2" stroke-linejoin="round" />
<rect x="412.2" y="30.3" width="8.2" height="15.7" fill="#000"/>
<rect x="412.2" y="45" width="2.6" height="8" fill="#000"/>
<line x1="429.4" y1="31" x2="429.4" y2="57" stroke="#000" stroke-width="1.3"/>
<line x1="439.3" y1="26" x2="439.3" y2="50" stroke="#000" stroke-width="1.3"/>
<line x1="456.6" y1="31" x2="456.6" y2="53" stroke="#000" stroke-width="1.3"/>
<line x1="468.8" y1="21" x2="468.8" y2="51" stroke="#000" stroke-width="1.3"/>
<line x1="477.2" y1="31" x2="477.2" y2="51" stroke="#000" stroke-width="1.3"/>
<line x1="480" y1="31" x2="480" y2="40" stroke="#000" stroke-width="1.3"/>
<line x1="481.5" y1="31" x2="481.5" y2="42" stroke="#000" stroke-width="1.3"/>
<line x1="483" y1="31" x2="483" y2="38" stroke="#000" stroke-width="1.3"/>
<line x1="485.7" y1="31" x2="485.7" y2="51" stroke="#000" stroke-width="1.3"/>
<line x1="487.5" y1="31" x2="487.5" y2="51" stroke="#000" stroke-width="1.3"/>
<text x="383.5" y="12.2" font-size="12.2" text-anchor="start" class="t">(e) AUG #41031</text>
<polyline points="83.4,235.2 83.8,235.6 84.5,233.3 85.0,238.9 85.5,231.2 86.0,240.6 86.6,228.0 87.1,232.0 87.4,223.9 87.8,237.2 88.3,216.4 88.9,228.6 89.6,219.7 90.0,235.8 90.6,213.1 91.1,227.5 91.8,216.3 92.5,226.6 92.9,215.8 93.5,228.2 94.1,217.4 94.5,227.8 95.1,214.3 95.7,231.9 96.1,211.6 96.5,231.5 97.1,214.4 97.7,232.5 98.3,216.0 98.8,227.7 99.1,211.6 99.7,236.5 100.3,212.1 100.9,227.5 101.6,215.9 102.2,233.3 102.6,217.2 103.3,228.9 103.8,216.4 104.3,230.9 104.8,218.0 105.2,228.5 105.8,213.2 106.5,229.9 107.1,213.9 107.8,235.0 108.4,212.7 108.8,226.4 109.1,215.8 109.5,228.8 110.0,212.3 110.4,228.7 111.0,212.0 111.7,233.2 112.3,215.0 112.8,237.6 113.4,216.9 113.7,233.1 114.4,215.6 114.9,233.8 115.3,216.2 115.9,226.9 116.4,215.2 116.8,234.2 117.5,217.4 117.9,227.8 118.6,215.3 119.2,236.4 119.6,215.1 120.0,235.6 120.6,212.7 121.1,233.1 121.5,212.2 122.0,226.9 122.5,217.5 123.1,226.7 123.8,215.9 124.3,226.3 125.0,212.3 125.6,229.9 126.0,212.1 126.7,228.7 127.3,214.5 127.7,233.9 128.2,211.0 128.8,229.3 129.1,216.2 129.7,230.6 130.1,214.5 130.6,234.3 131.1,214.8 131.7,228.3 132.1,214.2 132.7,235.6 133.3,213.8 133.9,227.3 134.4,211.2 135.0,238.0 135.6,216.0 136.0,235.5 136.3,213.3 136.8,236.4 137.2,211.8 137.5,236.1 137.9,217.0 138.3,236.0 138.7,217.0 139.4,236.5 140.0,216.9 140.7,237.6 141.1,216.6 141.7,230.2 142.0,216.9 142.5,232.4 143.2,214.0 143.6,234.2 144.1,212.5 144.7,236.8 145.1,216.2 145.7,232.3 146.1,215.2 146.5,229.0 147.1,212.4 147.4,236.1 148.1,212.6" fill="none" stroke="#8e8e8e" stroke-width="1.1" stroke-linejoin="round" />
<line x1="92.3" y1="207" x2="92.3" y2="236" stroke="#8e8e8e" stroke-width="1.2"/>
<polyline points="36.8,240.3 37.1,239.9 37.5,239.6 37.9,239.3 38.2,238.8 38.6,238.2 38.9,237.7 39.3,237.8 39.6,237.0 40.0,237.2 40.3,236.9 40.7,236.0 41.0,236.6 41.4,235.4 41.7,236.2 42.1,236.0 42.4,235.5 42.8,235.1 43.1,235.6 43.5,235.5 43.8,235.1 44.2,234.2 44.5,233.9 44.9,233.7 45.2,234.4 45.6,233.8 45.9,233.5 46.3,233.9 46.6,233.1 47.0,233.0 47.3,234.3 47.7,233.6 48.0,234.0 48.4,232.9 48.7,233.0 49.1,232.8 49.4,233.8 49.8,233.4 50.1,233.7 50.5,232.7 50.8,233.1 51.2,233.1 51.5,232.7 51.9,233.6 52.2,232.1 52.6,232.1 52.9,233.1 53.3,231.9 53.6,233.3 54.0,233.1 54.3,231.1 54.7,231.7 55.0,230.6 55.4,229.7 55.7,228.5 56.1,227.5 56.4,225.1 56.8,224.1 57.1,221.1 57.5,220.0 57.8,217.9 58.2,215.1 58.5,210.3 58.9,207.4 59.2,206.9 59.6,203.1 59.9,203.0 60.3,198.7 60.6,196.8 61.0,197.1 61.3,195.3 61.7,194.0 62.0,193.8 62.4,193.4 62.7,191.7 63.1,193.4 63.4,191.0 63.8,189.4 64.1,189.3 64.5,188.3 64.8,186.6 65.2,185.8 65.5,186.5 65.9,183.4 66.2,182.0 66.6,182.9 66.9,180.3 67.3,180.9 67.6,178.7 68.0,179.7 68.3,180.6 68.7,181.3 69.0,179.5 69.4,180.9 69.7,178.8 70.1,179.5 70.4,179.0 70.8,179.5 71.1,179.8 71.4,181.1 71.8,181.0 72.1,180.6 72.5,179.5 72.8,179.2 73.2,179.1 73.5,178.7 73.9,179.3 74.2,180.7 74.6,179.5 74.9,178.3 75.3,180.7 75.6,179.4 76.0,177.9 76.3,179.2 76.7,178.1 77.0,177.9 77.4,179.4 77.7,178.3 78.1,180.2 78.4,179.3 78.8,178.7 79.1,179.0 79.5,178.0 79.8,178.1 80.2,179.4 80.5,178.3 80.9,177.5 81.2,180.3 81.6,177.5 81.9,178.0 82.3,179.8 82.6,178.2 83.0,179.6 83.3,178.9 83.7,179.0 84.0,179.5 84.4,179.0 84.7,177.4 85.1,177.2 85.4,177.7 85.8,179.0 86.1,178.7 86.5,178.3 86.8,179.3 87.2,178.0 87.5,176.7 87.9,178.6 88.2,178.9 88.6,177.9 88.9,176.8 89.3,179.3 89.6,179.0 90.0,176.9 90.3,177.1 90.7,178.2 91.0,178.1 91.4,175.8 91.7,177.1 92.1,175.6 92.4,174.4 92.8,176.0 93.1,175.4 93.5,172.6 93.8,173.0 94.2,174.0 94.5,173.5 94.9,173.0 95.2,173.1 95.6,171.2 95.9,171.9 96.3,172.9 96.6,170.6 97.0,171.5 97.3,173.4 97.7,172.4 98.0,173.4 98.4,173.3 98.7,173.4 99.1,173.4 99.4,170.8 99.8,172.7 100.1,172.3 100.5,171.7 100.8,171.3 101.2,170.5 101.5,172.1 101.9,172.7 102.2,171.6 102.6,172.5 102.9,171.4 103.3,172.7 103.6,171.4 104.0,171.7 104.3,170.9 104.7,173.3 105.0,173.2 105.4,171.4 105.7,170.5 106.1,171.8 106.4,172.5 106.8,171.8 107.1,171.9 107.5,172.9 107.8,170.7 108.2,172.4 108.5,173.0 108.9,172.5 109.2,171.1 109.6,171.2 109.9,173.1 110.3,171.7 110.6,171.1 111.0,172.0 111.3,172.5 111.7,172.8 112.0,170.8 112.4,171.0 112.7,172.1 113.1,171.2 113.4,171.9 113.8,172.5 114.1,172.3 114.5,173.2 114.8,172.7 115.2,173.0 115.5,173.2 115.9,171.9 116.2,171.2 116.6,172.8 116.9,172.4 117.3,170.7 117.6,171.3 118.0,172.1 118.3,171.2 118.7,172.6 119.0,171.7 119.4,171.7 119.7,171.8 120.1,172.3 120.4,173.1 120.8,171.6 121.1,171.5 121.5,173.1 121.8,171.7 122.2,172.1 122.5,171.1 122.9,171.8 123.2,171.5 123.6,171.7 123.9,171.9 124.3,172.4 124.6,171.7 125.0,170.5 125.3,170.9 125.7,170.6 126.0,171.1 126.4,172.8 126.7,172.8 127.1,171.2 127.4,170.5 127.8,173.6 128.1,172.5 128.5,172.5 128.8,173.4 129.2,170.5 129.5,170.8 129.9,172.2 130.2,172.6 130.6,171.0 130.9,172.8 131.3,173.0 131.6,170.8 132.0,171.4 132.3,173.4 132.7,172.7 133.0,172.6 133.4,170.7 133.7,173.1 134.1,170.8 134.4,172.9 134.8,171.8 135.1,172.0 135.5,173.1 135.8,170.8 136.2,172.4 136.5,172.7 136.9,172.7 137.2,171.3 137.6,172.1 137.9,171.8 138.3,171.3 138.6,173.0 139.0,173.2 139.3,171.9 139.7,171.6 140.0,173.1 140.4,171.1 140.7,171.5 141.1,172.6 141.4,170.4 141.8,170.7 142.1,172.0 142.5,172.6 142.8,172.0 143.2,170.7 143.5,172.6 143.9,172.3 144.2,172.1 144.6,172.8 144.9,172.6 145.3,171.2 145.6,171.0 146.0,172.1 146.3,171.4 146.7,172.7 147.0,174.4 147.4,173.0 147.7,173.2 148.1,173.6 148.4,174.7 148.8,175.8 149.1,177.9 149.5,180.6 149.8,183.2 150.2,185.3 150.5,187.9 150.9,194.0 151.2,199.2 151.6,203.7 151.9,209.0 152.3,214.8 152.6,217.3 153.0,219.2 153.3,221.4 153.7,223.2 154.0,224.5 154.4,221.9 154.7,218.3 155.1,215.3 155.4,211.6 155.8,210.0 156.1,210.4 156.5,211.2 156.8,212.7 157.2,213.2 157.5,216.6 157.9,222.3 158.2,228.0 158.6,233.6 158.9,239.1 159.3,240.1 159.6,240.2 160.0,239.8 160.3,240.2 160.7,239.9 161.0,240.1 161.4,240.3 161.7,240.0 162.1,239.8 162.4,240.0 162.8,239.9 163.1,240.2 163.5,240.3 163.8,240.2 164.2,239.9 164.5,240.1 164.9,240.3 165.2,240.1 165.6,240.1 165.9,240.0 166.3,240.2 166.6,240.1 167.0,240.0 167.3,240.2 167.7,240.1 168.0,240.1 168.4,240.1 168.7,240.3 169.1,240.2 169.4,240.1 169.8,240.2 170.1,240.2 170.5,240.2 170.8,240.2 171.2,240.1 171.5,240.2 171.9,240.1 172.2,240.2 172.6,240.3 172.9,240.2 173.3,240.3 173.6,240.3 174.0,240.2 174.3,240.3 174.7,240.2 175.0,240.3 175.4,240.3 175.7,240.2 176.1,240.2 176.4,240.3 176.8,240.3 177.1,240.3 177.5,240.3 177.8,240.3 178.2,240.3 178.5,240.3 178.9,240.3" fill="none" stroke="#000" stroke-width="1.4" stroke-linejoin="round" />
<line x1="118.6" y1="172" x2="118.6" y2="201" stroke="#000" stroke-width="1.2"/>
<polyline points="53.0,240.5 53.5,238.2 54.4,234.6 54.8,232.5 55.7,226.9 56.4,219.6 57.2,192.8 57.9,195.2 58.4,187.6 59.0,153.0 59.7,177.9 60.4,197.7 60.9,197.4 61.8,197.2 62.6,195.9 63.5,194.3 64.1,194.0 65.0,194.9 65.8,186.0 66.5,183.2 67.1,182.9 68.0,181.1 68.8,178.9 69.3,176.6 70.1,179.5 70.9,175.7 71.5,177.0 72.0,176.2 72.9,182.9 73.6,181.1 74.3,174.5 75.2,180.0 75.8,177.6 76.4,181.7 77.1,174.9 77.7,177.4 78.2,176.9 78.7,180.0 79.4,177.0 80.0,174.9 80.5,177.2 81.3,178.4 81.8,176.0 82.4,183.5 83.1,179.3 83.9,179.9 84.7,180.8 85.4,178.3 86.2,181.4 86.6,177.8 87.4,181.9 88.0,182.3 88.8,180.0 89.5,179.8 90.1,179.7 90.6,182.4 91.3,185.8 92.0,187.5 92.5,191.4 93.5,188.1 94.2,182.5 94.7,184.4 95.5,187.1 96.1,186.0 96.6,184.8 97.5,190.0 98.3,189.6 99.0,186.7 99.8,190.2 100.3,184.0 100.9,183.9 101.6,182.4 102.2,183.7 103.1,184.4 103.6,187.8 104.1,181.1 104.9,184.7 105.3,184.1 105.8,187.9 106.7,186.8 107.3,186.5 108.0,185.1 108.7,186.6 109.5,185.8 110.0,185.7 110.7,183.6 111.3,183.7 112.1,184.1 112.8,184.1 113.3,187.0 114.1,184.7 114.5,182.3 115.4,186.5 116.3,181.7 117.2,187.6 117.8,187.9 118.4,182.5 118.9,183.6 119.8,190.0 120.3,186.7 120.9,185.1 121.7,190.0 122.4,188.1 123.1,190.1 123.6,186.9 124.2,190.0 124.7,188.3 125.5,187.3 126.3,187.4 127.2,187.4 127.7,189.8 128.3,186.6 129.0,186.1 129.7,184.9 130.5,185.0 130.9,188.4 131.4,181.8 132.2,187.1 132.7,192.6 133.2,187.7 133.7,184.3 134.4,190.5 134.9,186.5 135.8,186.6 136.3,189.7 136.9,185.2 137.5,186.6 138.3,187.1 139.2,184.7 140.0,183.0 140.9,187.3 141.7,186.9 142.5,184.6 143.2,183.9 143.9,184.5 144.7,184.1 145.2,190.2 145.7,186.4 146.3,190.4 147.2,196.1 148.1,201.7 148.6,206.8 149.5,214.0 150.4,220.0 150.9,224.7 151.5,232.1 152.2,240.0" fill="none" stroke="#ff0000" stroke-width="1.7" stroke-linejoin="round" />
<polyline points="52.8,240.5 53.7,236.8 54.1,234.2 54.9,231.7 55.7,227.6 56.3,220.6 56.8,216.0 57.4,201.3 58.3,190.9 58.8,165.0 59.4,165.0 60.2,198.3 60.9,196.9 61.4,197.4 62.3,199.6 63.2,197.4 63.6,197.4 64.4,194.7 65.3,189.7 65.9,184.4 66.8,185.2 67.5,178.3 68.1,181.4 68.6,179.2 69.4,177.5 70.2,176.4 70.8,175.8 71.7,179.4 72.4,178.9 73.0,180.3 73.5,178.8 74.3,178.0 75.1,176.2 75.8,181.8 76.6,185.0 77.4,182.7 77.9,182.4 78.4,182.7 78.9,177.9 79.6,181.1 80.2,180.8 81.2,180.5 81.7,178.8 82.3,178.1 83.1,178.9 83.6,178.6 84.0,182.5 84.6,176.7 85.4,179.8 86.2,178.3 86.7,176.0 87.7,179.1 88.6,182.8 89.1,185.6 90.0,179.3 90.7,180.7 91.4,183.7 92.1,187.6 92.8,186.6 93.5,180.0 94.4,174.1 95.1,171.6 96.0,172.2 96.5,170.7 97.0,173.4 97.8,172.8 98.7,171.7 99.4,167.4 100.0,172.8 100.6,173.5 101.5,169.9 102.0,170.8 102.7,171.3 103.2,169.6 103.9,173.7 104.9,171.1 105.7,167.9 106.6,167.5 107.3,171.6 108.0,174.0 108.8,174.0 109.5,169.9 110.4,170.4 111.0,170.5 111.7,169.7 112.5,167.2 113.2,170.0 113.7,173.1 114.3,173.5 115.0,171.6 115.6,171.1 116.3,171.6 116.8,170.6 117.6,172.0 118.2,167.4 118.7,173.9 119.3,167.5 120.0,173.8 120.8,170.3 121.3,174.0 122.0,174.0 122.7,173.4 123.4,169.2 124.3,172.9 125.0,171.6 125.7,174.0 126.4,167.6 127.3,175.8 127.7,171.0 128.3,169.9 129.0,173.9 129.6,176.3 130.2,171.6 130.6,175.6 131.5,175.6 132.3,173.8 133.0,182.1 133.7,174.2 134.3,171.2 135.1,172.7 136.0,169.9 136.5,168.2 137.0,176.6 137.8,170.2 138.7,171.8 139.2,169.9 139.9,171.7 140.7,167.2 141.2,170.1 141.8,170.6 142.6,175.0 143.4,170.2 144.0,166.6 144.6,171.5 145.6,170.8 146.4,174.2 147.0,174.9 147.8,175.9 148.3,176.8 148.8,176.0 149.5,189.7 150.2,201.8 150.7,210.6 151.5,221.2 152.3,231.2" fill="none" stroke="#008f00" stroke-width="1.8" stroke-linejoin="round" />
<text x="35.3" y="132.8" font-size="12" text-anchor="start" >(b) P<tspan font-size="8.4" dy="3.0" textLength="28.2" lengthAdjust="spacingAndGlyphs">rad,SOL</tspan></text>
<path d="M75.55,215.3 V206.65 H80.7" fill="none" stroke="#000" stroke-width="1.15"/>
<text x="80.8" y="217.6" font-size="7.6">Ar</text>
<polyline points="259.0,222.2 259.4,232.3 259.9,222.3 260.4,236.2 260.8,224.5 261.3,234.3 261.7,223.5 262.1,236.6 262.5,224.7 263.0,231.8 263.4,223.3 263.9,232.5 264.4,223.0 264.9,236.3 265.4,222.6 265.9,233.9 266.4,223.5 267.0,236.7 267.5,224.7 268.0,234.7 268.3,225.2 268.8,231.9 269.1,223.6 269.5,236.6 269.8,225.1 270.2,232.7 270.6,223.8 270.9,235.7 271.3,225.4 271.9,235.8 272.4,225.4 272.9,234.6 273.3,225.1 273.9,236.1 274.4,222.8 274.8,232.4 275.3,224.5 275.7,236.3 276.1,225.0 276.5,233.1 277.1,223.1 277.5,234.8 277.9,225.9 278.4,236.5 278.7,224.5 279.0,235.3 279.4,225.5 279.7,234.5 280.3,223.2 280.8,235.6 281.3,224.9 281.7,237.0 282.0,225.4 282.5,235.9 282.9,223.4 283.4,233.7 283.9,226.4 284.5,234.3 285.0,224.7 285.4,235.2 285.8,225.7 286.3,234.4 286.8,224.7 287.2,232.4 287.5,226.4 287.8,234.5 288.1,226.1 288.5,232.7 288.8,226.7 289.3,232.5 289.9,224.2 290.3,235.2 290.8,224.5 291.4,233.9 291.9,226.9 292.3,232.6 292.8,225.5 293.3,236.5 293.6,225.9 294.0,237.2 294.5,226.2 295.0,233.4 295.5,226.1 296.0,233.4 296.4,225.7 296.8,237.4 297.3,225.9 297.6,237.6 297.9,226.1 298.3,237.0 298.8,226.5 299.2,237.7 299.7,225.8 300.3,237.5 300.7,225.1 300.9,237.7 301.3,227.3 301.6,234.0 301.9,227.3 302.2,235.2 302.7,226.5 302.9,233.0 303.5,225.9 303.8,235.5 304.3,226.0 304.6,233.9 305.0,227.5 305.3,236.8 305.7,226.9 306.1,233.2 306.5,226.5 307.0,233.3 307.3,225.4 307.7,233.3 308.2,226.7 308.5,234.0 309.1,226.9 309.4,236.0 309.9,227.0 310.4,237.3 310.9,225.7 311.3,235.7 311.6,227.2 312.1,236.9 312.6,228.0 313.0,236.3 313.4,228.1 313.7,234.1 314.2,228.1 314.5,237.1 315.0,227.9 315.4,233.6 315.7,228.3 316.3,234.1 316.6,227.1 317.1,234.4 317.7,228.5 318.2,238.3 318.7,226.8 319.1,235.4 319.6,227.4 320.1,233.6 320.4,227.0 320.7,237.2 321.3,226.7 321.7,233.5" fill="none" stroke="#8e8e8e" stroke-width="1.25" stroke-linejoin="round" />
<polyline points="258.5,221.0 322.0,226.5" fill="none" stroke="#8e8e8e" stroke-width="1.5" stroke-linejoin="round" />
<polyline points="259.0,224.5 322.0,229.0" fill="none" stroke="#8e8e8e" stroke-width="1.3" stroke-linejoin="round" />
<polyline points="255.0,234.2 255.5,239.0 256.0,236.9 256.5,240.9 257.0,235.5 257.3,240.5 257.8,233.6 258.3,241.0 258.8,233.1 259.4,240.1 260.0,231.4 260.6,239.3 261.1,228.5 261.6,239.9 262.2,229.1 262.7,240.0" fill="none" stroke="#8e8e8e" stroke-width="1.0" stroke-linejoin="round" />
<line x1="258.3" y1="213.3" x2="258.3" y2="240" stroke="#8e8e8e" stroke-width="1.3"/>
<line x1="265.8" y1="219" x2="265.8" y2="240" stroke="#8e8e8e" stroke-width="1.3"/>
<line x1="287.3" y1="221" x2="287.3" y2="240" stroke="#8e8e8e" stroke-width="1.3"/>
<line x1="302.7" y1="216.5" x2="302.7" y2="240" stroke="#8e8e8e" stroke-width="1.3"/>
<line x1="321.4" y1="225" x2="321.4" y2="240" stroke="#8e8e8e" stroke-width="1.3"/>
<polyline points="212.7,240.0 213.2,238.5 213.7,238.4 214.2,238.1 214.7,236.5 215.2,236.1 215.7,234.9 216.2,234.3 216.7,234.3 217.2,234.5 217.7,234.0 218.2,234.2 218.7,233.7 219.2,233.9 219.7,232.9 220.2,233.6 220.7,234.0 221.2,234.0 221.7,234.1 222.2,233.6 222.7,233.8 223.2,232.5 223.7,233.4 224.2,231.9 224.7,232.6 225.2,232.4 225.7,232.1 226.2,232.7 226.7,231.6 227.2,231.7 227.7,230.1 228.2,228.4 228.7,227.8 229.2,222.7 229.7,221.7 230.2,220.4 230.7,215.7 231.2,212.4 231.7,210.2 232.2,205.7 232.7,204.6 233.2,201.2 233.7,198.3 234.2,196.3 234.7,197.6 235.2,196.4 235.7,196.1 236.2,192.6 236.7,191.8 237.2,188.5 237.7,190.4 238.2,187.2 238.7,186.7 239.2,186.0 239.7,185.6 240.2,182.1 240.7,181.4 241.2,184.3 241.7,182.1 242.2,182.3 242.7,184.0 243.2,180.3 243.7,184.0 244.2,180.8 244.7,182.3 245.2,180.0 245.7,181.2 246.2,179.9 246.7,182.0 247.2,180.7 247.7,179.9 248.2,182.2 248.7,181.3 249.2,181.4 249.7,180.7 250.2,180.0 250.7,178.4 251.2,178.8 251.7,179.7 252.2,181.0 252.7,179.1 253.2,181.9 253.7,178.7 254.2,179.5 254.7,176.5 255.2,178.1 255.7,173.8 256.2,175.2 256.7,173.4 257.2,174.5 257.7,174.1 258.2,172.0 258.7,170.0 259.2,166.4 259.7,165.4 260.2,167.4 260.7,162.9 261.2,163.2 261.7,161.9 262.2,160.5 262.7,158.0 263.2,156.6 263.7,157.0 264.2,157.2 264.7,158.7 265.2,156.3 265.7,155.9 266.2,155.6 266.7,155.8 267.2,156.7 267.7,156.6 268.2,156.1 268.7,156.1 269.2,156.8 269.7,157.5 270.2,158.0 270.7,156.6 271.2,158.7 271.7,157.7 272.2,157.7 272.7,159.5 273.2,159.7 273.7,159.3 274.2,158.2 274.7,160.1 275.2,159.3 275.7,158.0 276.2,161.0 276.7,159.9 277.2,158.5 277.7,159.0 278.2,159.6 278.7,160.1 279.2,161.9 279.7,160.3 280.2,160.0 280.7,158.6 281.2,159.9 281.7,160.8 282.2,158.9 282.7,159.9 283.2,161.1 283.7,158.9 284.2,157.8 284.7,159.1 285.2,160.3 285.7,159.5 286.2,162.1 286.7,163.2 287.2,161.4 287.7,158.8 288.2,160.2 288.7,161.3 289.2,161.5 289.7,160.4 290.2,159.6 290.7,161.4 291.2,162.2 291.7,162.4 292.2,161.0 292.7,162.7 293.2,160.7 293.7,162.9 294.2,161.4 294.7,159.3 295.2,161.5 295.7,161.3 296.2,163.0 296.7,162.9 297.2,162.6 297.7,160.9 298.2,160.9 298.7,160.7 299.2,161.8 299.7,160.0 300.2,161.6 300.7,162.3 301.2,161.3 301.7,163.1 302.2,161.7 302.7,163.1 303.2,162.8 303.7,163.8 304.2,163.0 304.7,161.6 305.2,164.1 305.7,162.8 306.2,162.0 306.7,162.6 307.2,164.1 307.7,163.1 308.2,165.0 308.7,162.2 309.2,162.5 309.7,163.6 310.2,162.3 310.7,163.0 311.2,162.9 311.7,163.5 312.2,164.4 312.7,163.1 313.2,163.5 313.7,162.5 314.2,164.3 314.7,164.0 315.2,163.7 315.7,164.6 316.2,164.7 316.7,164.4 317.2,165.8 317.7,163.8 318.2,163.9 318.7,164.6 319.2,162.8 319.7,164.5 320.2,164.2 320.7,164.7 321.2,165.0 321.7,163.8 322.2,165.9 322.7,168.8 323.2,173.8 323.7,185.1 324.2,195.1 324.7,205.4 325.2,209.1 325.7,211.4 326.2,213.2 326.7,214.3 327.2,215.7 327.7,218.4 328.2,219.2 328.7,221.0 329.2,223.6 329.7,224.6 330.2,227.0 330.7,228.6 331.2,230.0 331.7,232.3 332.2,234.6 332.7,235.5 333.2,235.4 333.7,236.9 334.2,237.7 334.7,238.4 335.2,238.5 335.7,239.4 336.2,239.8 336.7,240.0 337.2,240.1 337.7,239.8 338.2,239.9 338.7,239.6 339.2,239.8 339.7,239.9 340.2,240.0 340.7,240.1 341.2,240.2 341.7,240.2 342.2,240.0 342.7,240.0 343.2,240.1 343.7,240.2 344.2,240.1 344.7,240.2 345.2,240.3 345.7,240.1 346.2,240.3 346.7,240.3 347.2,240.1 347.7,240.2 348.2,240.2 348.7,240.2 349.2,240.2 349.7,240.3 350.2,240.2 350.7,240.3 351.2,240.2 351.7,240.3 352.2,240.3 352.7,240.3" fill="none" stroke="#000" stroke-width="1.6" stroke-linejoin="round" />
<polyline points="228.0,240.5 228.7,233.7 229.4,226.6 230.3,220.1 230.8,214.7 231.4,206.7 232.2,202.2 232.9,197.4 233.4,185.1 234.1,192.5 234.6,194.6 235.3,195.2 236.1,189.0 236.6,191.7 237.2,189.4 237.8,193.5 238.5,187.8 239.5,184.7 240.1,186.6 240.7,188.3 241.4,182.2 241.9,184.2 242.6,179.2 243.4,180.2 244.0,175.0 244.6,169.7 245.3,177.9 246.1,178.4 247.0,182.9 247.8,178.1 248.7,183.6 249.5,177.7 250.3,174.6 251.0,169.0 251.9,177.3 252.6,178.0 253.2,187.1 254.0,177.5 254.7,185.5 255.5,185.0 256.1,184.8 256.9,186.7 257.8,187.6 258.4,184.6 259.0,182.8 259.7,176.7 260.4,171.7 261.2,170.2 262.0,170.8 262.8,170.8 263.5,171.4 264.2,170.4 264.9,169.2 265.5,170.2 266.4,169.0 267.2,168.6 268.1,161.8 268.8,163.4 269.5,165.4 270.0,163.9 270.7,163.0 271.4,159.3 272.2,162.2 272.8,164.3 273.6,161.9 274.3,163.8 275.3,165.0 276.0,164.2 277.0,166.9 277.5,166.8 278.4,165.6 279.3,163.0 280.1,160.5 281.0,162.5 281.6,160.0 282.2,167.2 283.1,165.0 283.6,160.9 284.4,163.0 285.1,161.4 285.7,165.6 286.3,167.6 287.0,172.7 287.6,170.0 288.2,167.5 289.0,162.2 289.9,161.4 290.8,167.3 291.7,163.9 292.3,167.8 293.3,167.2 294.2,165.1 295.0,162.2 295.7,165.4 296.6,164.6 297.1,162.3 298.0,163.8 298.7,166.8 299.6,162.1 300.4,162.7 301.0,161.1 301.9,161.3 302.6,167.6 303.3,163.6 304.0,165.3 304.7,165.4 305.5,166.7 306.3,166.7 306.9,166.6 307.7,169.9 308.5,162.0 309.2,168.2 309.7,165.4 310.3,161.1 311.0,164.2 311.7,168.4 312.4,164.7 313.0,168.2 313.8,163.2 314.3,162.0 315.2,170.8 316.0,169.1 316.6,169.7 317.2,168.7 317.8,168.2 318.5,172.0 318.9,169.3 319.6,166.7 320.4,171.9 320.9,172.2 321.5,174.0 322.2,177.6 322.8,185.7 323.6,198.4 324.1,201.2 324.7,204.3 325.6,208.8 326.1,212.1 326.5,214.6 327.1,219.9 328.0,232.7" fill="none" stroke="#ff0000" stroke-width="1.7" stroke-linejoin="round" />
<polyline points="227.8,240.5 228.7,231.9 229.5,225.0 230.3,219.3 231.1,210.8 231.7,204.6 232.2,201.8 233.1,199.6 233.9,194.3 234.8,193.8 235.3,192.6 235.8,192.8 236.6,192.4 237.4,192.2 238.1,190.9 239.0,186.9 239.6,184.6 240.2,187.1 240.9,184.2 241.8,184.0 242.5,179.5 243.4,173.6 244.1,178.7 244.7,176.7 245.3,179.6 246.2,179.3 246.7,179.4 247.2,180.1 248.1,177.9 248.8,180.0 249.5,175.3 250.1,180.3 250.6,176.9 251.1,175.8 251.6,182.3 252.2,174.6 252.9,183.7 253.5,184.1 254.2,184.1 255.0,182.2 255.6,186.3 256.3,185.1 257.1,187.7 257.6,191.4 258.2,186.6 259.0,181.3 259.6,175.1 260.3,172.9 261.1,172.8 262.0,172.0 262.9,172.8 263.5,171.2 264.2,174.0 264.8,171.1 265.4,176.8 266.0,172.1 266.7,168.4 267.5,166.9 268.0,160.3 268.9,158.0 269.7,159.8 270.2,158.2 270.8,157.3 271.5,164.2 272.0,160.8 272.8,160.7 273.3,162.7 273.8,160.0 274.3,163.9 275.1,159.7 275.6,159.7 276.1,160.1 277.0,163.0 277.8,160.6 278.8,167.0 279.3,159.5 279.8,159.5 280.8,163.1 281.4,160.1 282.0,159.0 282.8,161.6 283.4,161.0 284.2,159.3 285.1,163.7 285.6,162.1 286.1,159.9 287.0,169.8 287.6,166.4 288.1,163.1 288.7,159.1 289.7,164.3 290.6,164.0 291.2,156.0 291.8,153.1 292.6,157.9 293.5,163.7 294.4,160.0 294.9,158.7 295.8,156.9 296.4,161.3 297.2,160.4 297.9,158.2 298.8,158.8 299.7,160.8 300.5,157.7 300.9,158.8 301.7,160.9 302.4,160.9 303.3,159.9 303.8,158.9 304.5,161.5 305.0,162.0 305.8,168.6 306.5,165.1 307.4,163.4 308.2,164.4 309.1,164.9 309.9,162.9 310.6,166.1 311.4,164.3 312.3,166.5 312.9,161.2 313.7,161.3 314.6,164.8 315.1,162.9 315.9,166.2 316.8,166.3 317.3,166.3 317.9,164.4 318.8,163.9 319.7,163.0 320.3,167.1 321.1,166.6 321.7,173.2 322.5,184.1 323.2,197.9 324.1,201.7 325.0,206.9 325.9,212.0 326.6,215.4 327.4,222.8 327.9,228.3 328.8,237.8" fill="none" stroke="#008f00" stroke-width="1.8" stroke-linejoin="round" />
<text x="209.3" y="132.8" font-size="12" text-anchor="start" >(d) P<tspan font-size="8.4" dy="3.0" textLength="28.2" lengthAdjust="spacingAndGlyphs">rad,SOL</tspan></text>
<path d="M241.25,234.4 V226.15 H246.0" fill="none" stroke="#000" stroke-width="1.15"/>
<text x="246.4" y="236.4" font-size="7.6">Ar</text>
<path d="M265.85,215.7 V207.55 H270.7" fill="none" stroke="#000" stroke-width="1.15"/>
<text x="270.9" y="217.9" font-size="7.6">N2</text>
<polyline points="418.4,200.7 418.4,236.0" fill="none" stroke="#8e8e8e" stroke-width="1.8" stroke-linejoin="round" />
<polyline points="419.6,232.8 427.6,199.8 446.0,200.3 446.4,240.5" fill="none" stroke="#8e8e8e" stroke-width="1.8" stroke-linejoin="round" />
<polyline points="421.0,228.5 474.7,230.5" fill="none" stroke="#8e8e8e" stroke-width="1.8" stroke-linejoin="round" />
<polyline points="446.4,239.0 461.0,239.0" fill="none" stroke="#8e8e8e" stroke-width="2.2" stroke-linejoin="round" />
<polyline points="461.2,187.0 461.2,240.0" fill="none" stroke="#8e8e8e" stroke-width="1.8" stroke-linejoin="round" />
<polyline points="462.0,203.0 500.3,203.4 503.7,238.6 505.5,239.0 508.3,220.0" fill="none" stroke="#8e8e8e" stroke-width="1.8" stroke-linejoin="round" />
<polyline points="470.0,231.7 476.0,231.7 477.0,240.5" fill="none" stroke="#8e8e8e" stroke-width="1.8" stroke-linejoin="round" />
<polyline points="508.9,122.5 508.9,240.0" fill="none" stroke="#8e8e8e" stroke-width="1.8" stroke-linejoin="round" />
<polyline points="418.0,225.0 418.5,228.0 419.0,224.6 419.5,226.4 420.0,226.2 420.5,224.8 421.0,231.2" fill="none" stroke="#8e8e8e" stroke-width="1" stroke-linejoin="round" />
<polyline points="385.7,240.3 386.1,240.1 386.4,239.5 386.8,239.2 387.1,238.8 387.5,239.3 387.8,238.3 388.2,238.5 388.5,238.2 388.9,237.9 389.2,237.7 389.6,238.1 389.9,238.4 390.3,237.6 390.6,238.2 391.0,237.3 391.3,237.7 391.7,237.0 392.0,237.3 392.4,236.5 392.7,236.5 393.1,237.4 393.4,237.3 393.8,236.8 394.1,236.4 394.5,236.8 394.8,236.4 395.2,236.8 395.5,235.7 395.9,236.4 396.2,236.3 396.6,236.0 396.9,236.1 397.3,235.7 397.6,235.0 398.0,235.6 398.3,235.0 398.7,233.9 399.0,233.1 399.4,233.4 399.7,231.8 400.1,231.3 400.4,230.6 400.8,229.9 401.1,230.6 401.5,229.0 401.8,229.4 402.2,228.2 402.5,227.7 402.9,228.0 403.2,227.2 403.6,226.5 403.9,225.3 404.3,224.7 404.6,222.7 405.0,221.9 405.3,220.1 405.7,218.5 406.0,217.5 406.4,216.5 406.7,214.1 407.1,213.9 407.4,211.7 407.8,211.7 408.1,208.1 408.5,201.1 408.8,200.4 409.2,200.4 409.5,200.3 409.9,200.2 410.2,200.3 410.6,199.7 410.9,199.9 411.3,200.1 411.6,200.3 412.0,200.4 412.3,199.8 412.7,198.7 413.0,197.5 413.4,197.1 413.7,195.4 414.1,194.1 414.4,192.2 414.8,191.8 415.1,191.1 415.5,190.1 415.8,189.0 416.2,186.8 416.5,185.4 416.9,184.7 417.2,184.2 417.6,184.0 417.9,181.7 418.3,180.2 418.6,180.1 419.0,179.6 419.3,179.3 419.7,178.2 420.0,176.4 420.4,175.7 420.7,176.4 421.1,174.8 421.4,174.9 421.8,174.1 422.1,174.2 422.5,171.8 422.8,172.5 423.2,170.3 423.5,169.8 423.9,170.8 424.2,169.3 424.6,170.7 424.9,168.4 425.3,169.6 425.6,168.9 426.0,168.8 426.3,166.8 426.7,167.2 427.0,165.8 427.4,167.3 427.7,165.5 428.1,167.4 428.4,166.3 428.8,165.0 429.1,167.1 429.5,164.4 429.8,167.0 430.2,166.7 430.5,164.9 430.9,165.2 431.2,164.2 431.6,164.2 431.9,165.7 432.3,164.5 432.6,163.3 433.0,165.2 433.3,165.0 433.7,163.8 434.0,165.3 434.4,163.0 434.7,164.6 435.1,164.7 435.4,162.8 435.8,164.7 436.1,164.2 436.5,164.1 436.8,162.9 437.2,165.0 437.5,164.2 437.9,164.9 438.2,163.5 438.6,162.8 438.9,165.4 439.3,164.4 439.6,164.7 440.0,162.6 440.3,163.2 440.7,164.5 441.0,163.7 441.4,163.0 441.7,163.6 442.1,164.1 442.4,163.0 442.8,164.3 443.1,164.6 443.5,163.7 443.8,165.8 444.2,164.2 444.5,164.2 444.9,164.3 445.2,164.1 445.6,165.9 445.9,166.4 446.3,165.5 446.6,166.9 447.0,165.0 447.3,164.8 447.7,167.2 448.0,166.3 448.4,165.8 448.7,165.0 449.1,167.8 449.4,166.1 449.8,168.1 450.1,167.8 450.5,166.8 450.8,165.6 451.2,168.2 451.5,168.0 451.9,166.5 452.2,165.7 452.6,166.6 452.9,166.9 453.3,166.0 453.6,166.6 454.0,168.1 454.3,167.7 454.7,167.8 455.0,166.8 455.4,165.9 455.7,166.0 456.1,168.6 456.4,166.5 456.8,169.0 457.1,166.7 457.5,166.8 457.8,168.7 458.2,166.9 458.5,166.8 458.9,167.8 459.2,167.3 459.6,168.3 459.9,166.8 460.3,166.5 460.6,166.5 461.0,168.7 461.3,167.9 461.7,167.1 462.0,168.6 462.4,167.5 462.7,167.0 463.1,168.6 463.4,168.7 463.8,168.8 464.1,168.2 464.5,168.9 464.8,167.0 465.2,167.5 465.5,168.2 465.9,167.2 466.2,167.2 466.6,167.0 466.9,168.4 467.3,167.5 467.6,166.4 468.0,165.1 468.3,165.2 468.7,166.4 469.0,167.0 469.4,166.2 469.7,165.2 470.1,167.5 470.4,166.8 470.8,167.1 471.1,167.5 471.5,166.8 471.8,165.3 472.2,166.4 472.5,165.9 472.9,168.6 473.2,167.7 473.6,167.3 473.9,167.6 474.3,167.3 474.6,168.5 475.0,167.5 475.3,168.2 475.7,167.4 476.0,167.6 476.4,167.2 476.7,168.0 477.1,167.7 477.4,170.3 477.8,169.2 478.1,168.8 478.5,170.6 478.8,170.3 479.2,169.3 479.5,171.0 479.9,170.8 480.2,171.5 480.6,169.7 480.9,171.7 481.3,171.4 481.6,170.9 482.0,169.8 482.3,169.8 482.7,171.4 483.0,172.1 483.4,171.3 483.7,172.1 484.1,170.8 484.4,172.3 484.8,172.5 485.1,172.3 485.5,170.8 485.8,170.8 486.2,171.0 486.5,171.7 486.9,171.8 487.2,172.5 487.6,171.2 487.9,172.0 488.3,173.4 488.6,172.6 489.0,172.9 489.3,172.9 489.7,173.8 490.0,173.8 490.4,173.5 490.7,172.1 491.1,172.1 491.4,173.4 491.8,172.2 492.1,173.9 492.5,173.4 492.8,174.0 493.2,173.7 493.5,174.8 493.9,173.3 494.2,174.1 494.6,174.8 494.9,173.8 495.3,173.8 495.6,174.2 496.0,175.2 496.3,175.8 496.7,175.5 497.0,175.7 497.4,174.1 497.7,174.5 498.1,175.8 498.4,174.4 498.8,174.6 499.1,174.0 499.5,174.1 499.8,173.2 500.2,172.2 500.5,172.2 500.9,173.0 501.2,173.2 501.6,173.7 501.9,175.3 502.3,177.8 502.6,180.1 503.0,182.9 503.3,185.3 503.7,187.5 504.0,189.9 504.4,192.5 504.7,195.3 505.1,197.6 505.4,199.8 505.8,207.9 506.1,215.1 506.5,222.9 506.8,230.7 507.2,235.0 507.5,236.1 507.9,236.6 508.2,237.3 508.6,237.6 508.9,238.3 509.3,238.5 509.6,238.8 510.0,239.0 510.3,239.3 510.7,239.5 511.0,239.6 511.4,239.8 511.7,239.8 512.1,239.8 512.4,239.8 512.8,239.8 513.1,239.9 513.5,239.9 513.8,239.9 514.2,239.9 514.5,239.9 514.9,239.9 515.2,239.9 515.6,239.9 515.9,239.9 516.3,240.0 516.6,240.0 517.0,240.0 517.3,240.0 517.7,240.0 518.0,240.0 518.4,240.0 518.7,240.0 519.1,240.0 519.4,240.1 519.8,240.1 520.1,240.1 520.5,240.1 520.8,240.1 521.2,240.1 521.5,240.1 521.9,240.1 522.2,240.1 522.6,240.2 522.9,240.2 523.3,240.2 523.6,240.2 524.0,240.2 524.3,240.2 524.7,240.2 525.0,240.2 525.4,240.2 525.7,240.3 526.1,240.3 526.4,240.3 526.8,240.3" fill="none" stroke="#000" stroke-width="1.5" stroke-linejoin="round" />
<polyline points="412.2,203.9 413.1,196.2 413.7,192.0 414.5,184.7 415.1,181.6 416.0,177.5 416.6,174.2 417.3,168.6 418.0,169.2 418.5,169.5 419.2,170.2 419.9,167.1 420.5,163.9 421.3,164.3 421.9,160.2 422.8,158.9 423.7,153.1 424.3,153.2 424.9,149.2 425.6,154.7 426.2,143.7 427.0,147.9 427.7,147.6 428.3,144.9 429.2,139.1 429.7,137.8 430.5,131.1 431.1,137.1 431.7,134.2 432.6,139.6 433.2,138.8 433.8,135.0 434.7,139.6 435.6,146.9 436.1,142.8 436.7,139.8 437.5,150.5 438.3,151.4 438.7,144.6 439.4,142.6 439.9,144.3 440.4,132.4 441.2,131.2 441.9,129.7 442.5,129.8 443.1,126.9 443.8,125.4 444.4,124.5 445.0,127.2 445.8,132.0 446.5,139.1 447.4,153.8 447.9,156.0 448.5,158.3 449.2,165.9 449.9,168.6 450.6,171.2 451.1,170.8 451.8,170.9 452.8,173.9 453.4,172.0 454.2,176.2 454.8,174.0 455.4,175.6 455.9,177.2 456.5,176.8 457.1,177.2 457.8,178.0 458.7,177.5 459.4,176.0 460.0,171.2 460.6,170.1 461.3,169.7 462.2,166.0 462.8,168.5 463.6,166.0 464.1,164.1 464.6,162.7 465.4,151.8 465.9,154.9 466.6,149.6 467.1,145.6 468.0,142.7 468.5,139.3 469.2,130.3 469.8,127.7 470.6,124.5 471.2,133.0 471.9,141.8 472.5,144.4 473.5,144.6 474.3,138.3 475.0,133.9 475.8,124.5 476.7,127.5 477.2,131.3 477.7,133.8 478.6,146.6 479.2,145.9 479.8,148.6 480.6,157.1 481.1,152.1 481.6,155.4 482.3,150.6 483.1,157.5 484.0,151.3 484.6,161.5 485.5,144.5 486.1,155.1 486.8,144.4 487.4,156.8 488.1,153.7 488.9,154.6 489.5,155.9 490.3,149.5 491.3,156.0 492.1,146.7 492.9,156.6 493.6,163.5 494.5,157.4 495.3,155.8 496.2,157.9 497.0,149.6 497.5,155.0 498.3,166.6 498.9,168.7 499.4,171.8" fill="none" stroke="#ff0000" stroke-width="1.7" stroke-linejoin="round" />
<polyline points="509.9,187.0 510.1,236.0" fill="none" stroke="#ff0000" stroke-width="1.5" stroke-linejoin="round" />
<polyline points="509.6,172.0 509.6,187.0" fill="none" stroke="#000" stroke-width="1.3" stroke-linejoin="round" />
<polyline points="500.0,176.0 500.6,199.0 502.5,225.0 503.8,238.5 505.0,226.0" fill="none" stroke="#ff0000" stroke-width="1.3" stroke-linejoin="round" />
<polyline points="504.5,237.0 505.4,237.0 507.5,200.0" fill="none" stroke="#008f00" stroke-width="1.3" stroke-linejoin="round" />
<polyline points="393.8,180.0 394.0,194.0" fill="none" stroke="#ff0000" stroke-width="1.6" stroke-linejoin="round" />
<polyline points="395.4,214.0 395.4,216.5" fill="none" stroke="#ff0000" stroke-width="1.2" stroke-linejoin="round" />
<polyline points="408.6,204.7 408.6,220.0" fill="none" stroke="#ff0000" stroke-width="1.2" stroke-linejoin="round" />
<polygon points="398.2,123.4 402.8,123.4 402.8,180 406,180 406,123.4 408.9,123.4 408.9,200 409.2,225 404,231 401,239.5 398.2,239.5" fill="#008f00"/>
<polyline points="394.5,209.8 394.8,237.2 395.2,207.1 395.6,238.8 396.0,208.6 396.4,238.9 396.6,203.0 396.9,238.7 397.1,200.9 397.5,239.6 397.8,200.3" fill="none" stroke="#008f00" stroke-width="1.0" stroke-linejoin="round" />
<polyline points="395.4,217.0 395.4,235.8" fill="none" stroke="#008f00" stroke-width="1.3" stroke-linejoin="round" />
<polyline points="396.6,200.0 396.6,236.0" fill="none" stroke="#008f00" stroke-width="1.3" stroke-linejoin="round" />
<polyline points="393.6,188.3 393.6,240.5" fill="none" stroke="#008f00" stroke-width="1.8" stroke-linejoin="round" />
<polyline points="409.8,225.0 410.5,200.0 410.5,225.0" fill="none" stroke="#008f00" stroke-width="1.2" stroke-linejoin="round" />
<polyline points="403.9,193.3 403.9,139.0 404.1,187.5" fill="none" stroke="#ff0000" stroke-width="2.0" stroke-linejoin="round" />
<polyline points="411.5,214.9 412.4,202.3 413.1,195.1 414.0,185.9 414.6,183.1 415.1,179.4 415.9,176.7 416.4,173.6 417.1,172.0 417.9,171.0 418.6,170.9 419.3,171.1 419.9,168.0 420.4,165.6 421.2,167.8 422.0,168.3 422.5,166.2 423.2,167.2 424.0,169.9 424.9,163.3 425.7,166.6 426.3,169.0 427.3,167.3 428.0,165.5 428.9,166.8 429.8,165.1 430.2,163.4 430.9,160.4 431.5,161.8 432.0,166.2 432.6,164.7 433.4,166.8 434.3,169.6 434.9,164.2 435.8,166.6 436.3,164.9 436.9,165.2 437.7,166.0 438.2,166.5 439.0,161.6 439.7,164.0 440.2,167.1 441.1,163.0 441.9,160.2 442.7,151.4 443.3,143.1 444.0,134.7 444.9,147.6 445.7,161.8 446.2,170.4 446.7,167.5 447.6,168.4 448.2,165.6 449.0,170.5 449.8,177.7 450.5,174.8 450.9,175.4 451.8,176.5 452.4,179.8 453.2,180.9 453.7,178.7 454.6,186.6 455.5,180.8 456.2,184.7 456.7,177.5 457.5,178.8 458.2,178.3 458.8,178.0 459.3,178.3 460.2,175.4 460.7,177.7 461.5,177.9 462.3,178.2 463.1,177.2 463.6,175.3 464.1,173.3 464.8,170.5 465.4,170.8 466.0,166.3 466.8,166.8 467.6,165.9 468.2,162.1 468.7,159.0 469.2,155.1 469.7,154.4 470.6,156.2 471.4,160.0 472.2,166.0 472.9,165.3 473.5,164.0 474.2,163.9 474.7,158.5 475.4,152.6 476.0,154.9 476.7,157.0 477.3,162.1 478.1,165.2 479.0,171.5 479.5,171.5 480.1,171.8 481.0,171.5 481.9,174.3 482.5,177.0 483.2,168.0 483.9,174.4 484.7,175.7 485.5,171.9 486.3,172.9 486.8,172.5 487.5,174.1 488.3,175.5 489.1,178.8 489.7,173.7 490.6,175.2 491.4,173.8 491.9,174.2 492.4,176.4 493.0,173.4 493.5,175.8 494.2,176.6 494.8,172.7 495.7,174.1 496.4,175.1 496.9,173.4 497.8,181.3 498.5,184.5 499.3,190.2 500.1,193.8 500.7,200.4 501.2,208.4 502.1,219.2 502.7,226.5 503.2,234.1 503.9,237.4 504.4,239.1" fill="none" stroke="#008f00" stroke-width="1.8" stroke-linejoin="round" />
<text x="383.3" y="132.8" font-size="12" text-anchor="start" >(f) P<tspan font-size="8.4" dy="3.0" textLength="28.2" lengthAdjust="spacingAndGlyphs">rad,SOL</tspan></text>
<path d="M429.05,225.2 V217.15 H433.8" fill="none" stroke="#000" stroke-width="1.15"/>
<text x="434.3" y="227.3" font-size="7.6">N2</text>
<path d="M479.55,213.5 V205.15 H483.5" fill="none" stroke="#000" stroke-width="1.15"/>
<text x="484.6" y="216.2" font-size="7.6">Ne</text>
</svg></body></html>
